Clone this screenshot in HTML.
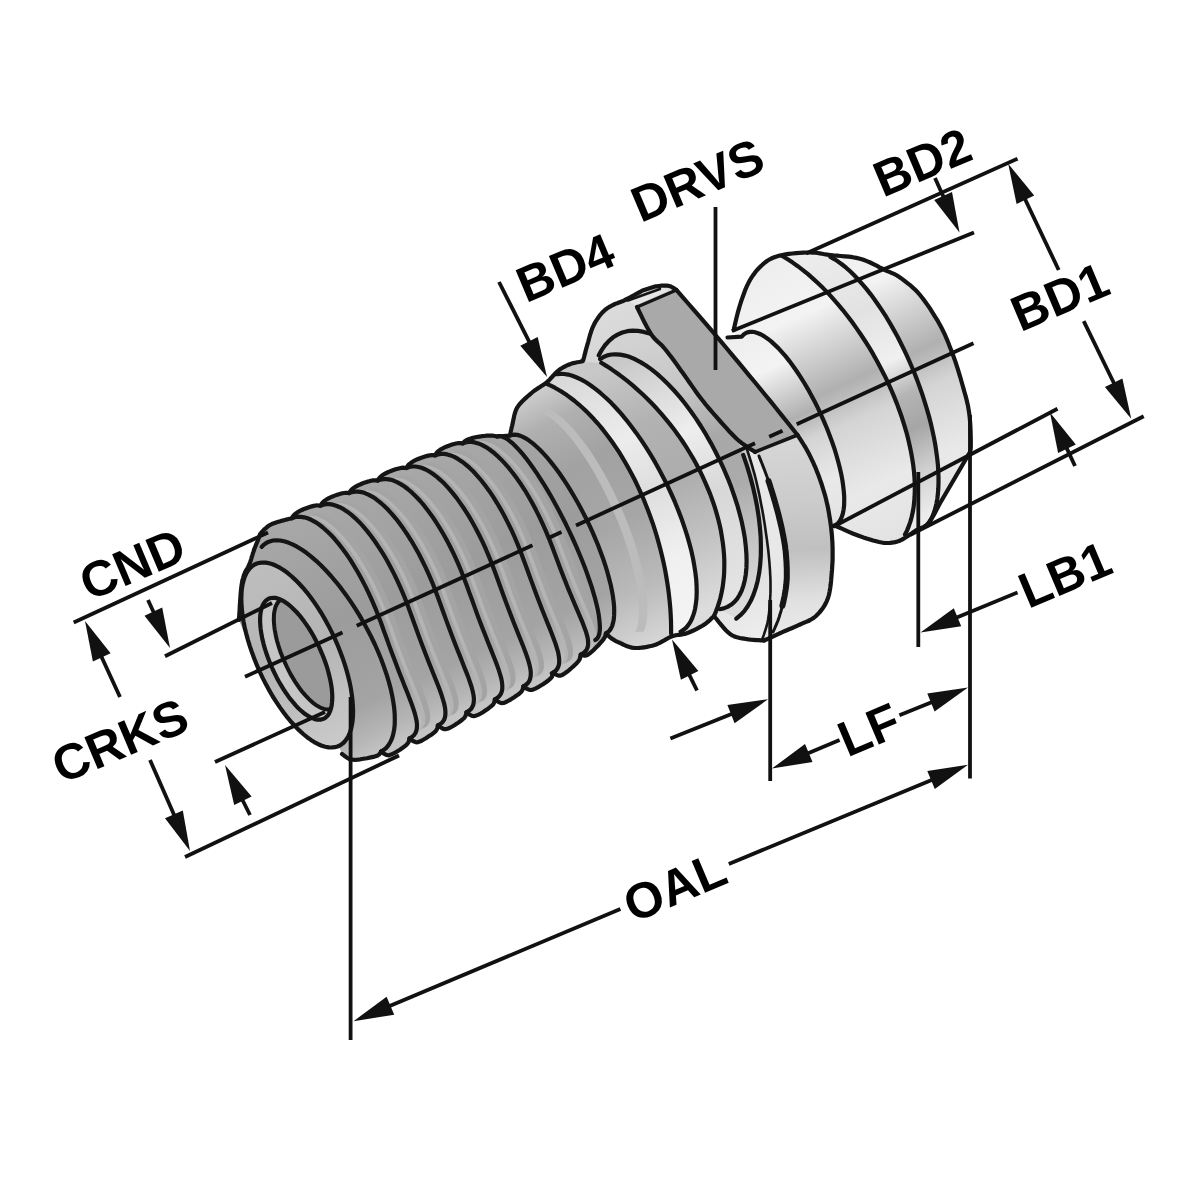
<!DOCTYPE html>
<html><head><meta charset="utf-8"><title>Retention knob dimensions</title>
<style>
html,body{margin:0;padding:0;background:#fff;}
body{width:1200px;height:1200px;overflow:hidden;}
svg{display:block;}
text{font-family:"Liberation Sans",sans-serif;font-weight:bold;fill:#000;}
</style></head><body>
<svg width="1200" height="1200" viewBox="0 0 1200 1200">
<rect width="1200" height="1200" fill="#fff"/>
<defs><linearGradient id="g1" gradientUnits="userSpaceOnUse" x1="769.8" y1="261.6" x2="898.9" y2="543.4"><stop offset="0" stop-color="#eeeeee"/><stop offset="0.2" stop-color="#f3f3f3"/><stop offset="0.34" stop-color="#cfcfcf"/><stop offset="0.46" stop-color="#b0b0b0"/><stop offset="0.58" stop-color="#d4d4d4"/><stop offset="0.8" stop-color="#e9e9e9"/><stop offset="1" stop-color="#e2e2e2"/></linearGradient><linearGradient id="g2" gradientUnits="userSpaceOnUse" x1="812.0" y1="257.6" x2="929.4" y2="514.1"><stop offset="0" stop-color="#ececec"/><stop offset="0.25" stop-color="#e2e2e2"/><stop offset="0.45" stop-color="#f0f0f0"/><stop offset="0.58" stop-color="#b4b4b4"/><stop offset="0.7" stop-color="#a6a6a6"/><stop offset="0.85" stop-color="#d0d0d0"/><stop offset="1" stop-color="#ececec"/></linearGradient><linearGradient id="g3" gradientUnits="userSpaceOnUse" x1="746.3" y1="332.8" x2="834.6" y2="525.6"><stop offset="0" stop-color="#eeeeee"/><stop offset="0.2" stop-color="#f3f3f3"/><stop offset="0.34" stop-color="#cfcfcf"/><stop offset="0.46" stop-color="#b0b0b0"/><stop offset="0.58" stop-color="#d4d4d4"/><stop offset="0.8" stop-color="#e9e9e9"/><stop offset="1" stop-color="#e2e2e2"/></linearGradient><linearGradient id="g4" gradientUnits="userSpaceOnUse" x1="600" y1="300" x2="760" y2="640"><stop offset="0" stop-color="#dcdcdc"/><stop offset="0.35" stop-color="#d0d0d0"/><stop offset="0.6" stop-color="#c6c6c6"/><stop offset="0.85" stop-color="#e2e2e2"/><stop offset="1" stop-color="#eeeeee"/></linearGradient><linearGradient id="g5" gradientUnits="userSpaceOnUse" x1="640" y1="340" x2="750" y2="600"><stop offset="0" stop-color="#d2d2d2"/><stop offset="0.22" stop-color="#c6c6c6"/><stop offset="0.42" stop-color="#a8a8a8"/><stop offset="0.6" stop-color="#ababab"/><stop offset="0.8" stop-color="#c4c4c4"/><stop offset="1" stop-color="#dcdcdc"/></linearGradient><linearGradient id="g6" gradientUnits="userSpaceOnUse" x1="620" y1="360" x2="730" y2="600"><stop offset="0" stop-color="#c8c8c8"/><stop offset="0.35" stop-color="#eeeeee"/><stop offset="0.6" stop-color="#d8d8d8"/><stop offset="1" stop-color="#e4e4e4"/></linearGradient><linearGradient id="g7" gradientUnits="userSpaceOnUse" x1="790" y1="440" x2="800" y2="640"><stop offset="0" stop-color="#d6d6d6"/><stop offset="0.3" stop-color="#cccccc"/><stop offset="0.55" stop-color="#c0c0c0"/><stop offset="0.8" stop-color="#e0e0e0"/><stop offset="1" stop-color="#ececec"/></linearGradient><linearGradient id="g8" gradientUnits="userSpaceOnUse" x1="600" y1="370" x2="700" y2="610"><stop offset="0" stop-color="#c8c8c8"/><stop offset="0.25" stop-color="#b2b2b2"/><stop offset="0.5" stop-color="#adadad"/><stop offset="0.75" stop-color="#c2c2c2"/><stop offset="1" stop-color="#dcdcdc"/></linearGradient><linearGradient id="g9" gradientUnits="userSpaceOnUse" x1="560" y1="375" x2="690" y2="630"><stop offset="0" stop-color="#d8d8d8"/><stop offset="0.3" stop-color="#ececec"/><stop offset="0.5" stop-color="#dedede"/><stop offset="0.75" stop-color="#f0f0f0"/><stop offset="1" stop-color="#f4f4f4"/></linearGradient><linearGradient id="g10" gradientUnits="userSpaceOnUse" x1="520" y1="400" x2="640" y2="650"><stop offset="0" stop-color="#cccccc"/><stop offset="0.12" stop-color="#b0b0b0"/><stop offset="0.3" stop-color="#a2a2a2"/><stop offset="0.55" stop-color="#a6a6a6"/><stop offset="0.8" stop-color="#bababa"/><stop offset="1" stop-color="#d6d6d6"/></linearGradient><linearGradient id="g11" gradientUnits="userSpaceOnUse" x1="420.4" y1="459.3" x2="524.2" y2="685.9"><stop offset="0" stop-color="#a8a8a8"/><stop offset="0.45" stop-color="#9c9c9c"/><stop offset="0.8" stop-color="#a4a4a4"/><stop offset="0.93" stop-color="#b6b6b6"/><stop offset="1" stop-color="#c4c4c4"/></linearGradient><linearGradient id="g12" gradientUnits="userSpaceOnUse" x1="254.7" y1="562.3" x2="338.0" y2="744.1"><stop offset="0" stop-color="#bebebe"/><stop offset="0.5" stop-color="#b4b4b4"/><stop offset="1" stop-color="#cacaca"/></linearGradient></defs>
<path d="M733.7,330.0 L734.2,328.1 L734.7,325.5 L735.4,322.5 L736.2,319.1 L737.1,315.5 L738.0,311.8 L739.0,308.3 L740.0,305.0 L741.0,301.8 L742.1,298.6 L743.3,295.3 L744.5,292.0 L745.7,288.8 L747.1,285.7 L748.5,282.8 L750.0,280.0 L751.6,277.4 L753.3,274.9 L755.1,272.4 L757.0,270.2 L759.0,268.0 L761.0,266.0 L763.0,264.2 L765.0,262.5 L767.0,261.0 L769.0,259.8 L770.9,258.7 L773.0,257.8 L775.1,257.0 L777.4,256.3 L779.8,255.6 L782.5,255.0 L785.5,254.4 L788.8,253.9 L792.4,253.5 L796.1,253.1 L799.8,252.9 L803.4,252.7 L806.9,252.5 L810.0,252.5 L812.8,252.6 L815.3,252.7 L817.6,253.0 L819.8,253.4 L822.1,253.8 L824.5,254.2 L827.1,254.6 L830.0,255.0 L833.3,255.4 L836.9,255.7 L840.7,256.0 L844.7,256.3 L848.7,256.7 L852.6,257.2 L856.4,257.9 L860.0,258.7 L863.4,259.8 L866.8,261.1 L870.2,262.5 L873.4,264.1 L876.6,265.7 L879.6,267.3 L882.4,268.7 L885.0,270.0 L887.3,271.1 L889.3,271.9 L891.1,272.7 L892.8,273.4 L894.4,274.1 L896.1,275.0 L898.0,276.1 L900.0,277.5 L902.3,279.1 L904.6,280.9 L907.1,282.8 L909.7,284.8 L912.3,287.1 L914.9,289.5 L917.5,292.1 L920.0,295.0 L922.6,298.2 L925.2,301.7 L927.8,305.4 L930.5,309.3 L933.0,313.3 L935.5,317.3 L937.9,321.2 L940.0,325.0 L941.9,328.6 L943.7,332.2 L945.3,335.7 L946.9,339.3 L948.3,342.8 L949.7,346.4 L951.1,350.0 L952.5,353.7 L953.9,357.5 L955.3,361.4 L956.6,365.4 L957.9,369.4 L959.1,373.4 L960.3,377.3 L961.4,381.2 L962.5,385.0 L963.5,388.6 L964.5,392.2 L965.5,395.6 L966.4,399.0 L967.2,402.4 L968.0,405.9 L968.6,409.5 L969.2,413.3 L969.7,417.4 L970.1,421.9 L970.4,426.6 L970.6,431.3 L970.7,435.8 L970.8,440.0 L970.8,443.7 L970.8,446.7 L970.7,449.0 L970.4,450.7 L970.1,452.0 L969.6,452.9 L969.2,453.6 L968.8,454.1 L968.5,454.5 L968.3,455.0 L940.0,503.3 L939.1,504.9 L937.9,507.2 L936.5,509.9 L934.9,512.9 L933.2,515.9 L931.5,518.8 L929.8,521.3 L928.3,523.3 L926.8,524.8 L925.4,525.9 L923.9,526.8 L922.4,527.5 L920.9,528.1 L919.5,528.6 L918.1,529.3 L916.7,530.0 L915.4,530.8 L914.1,531.7 L912.8,532.6 L911.6,533.5 L910.4,534.3 L909.2,535.1 L907.9,535.9 L906.7,536.7 L905.5,537.4 L904.3,538.2 L903.2,538.9 L902.0,539.6 L900.8,540.2 L899.6,540.8 L898.2,541.3 L896.7,541.7 L895.1,542.1 L893.5,542.4 L891.9,542.7 L890.1,542.9 L888.3,543.0 L886.3,543.0 L884.1,542.8 L881.7,542.5 L879.1,542.0 L876.2,541.3 L873.1,540.5 L869.9,539.5 L866.6,538.5 L863.3,537.4 L860.0,536.2 L856.7,535.0 L853.3,533.7 L849.5,532.1 L845.6,530.4 L841.8,528.7 L838.1,527.0 L834.8,525.5 L832.1,524.2 L830.0,523.3 L800.0,470.0 L760.0,400.0Z" fill="url(#g1)" stroke="none"/>
<path d="M782.7,256.3 L787.7,259.3 L792.7,262.6 L797.8,266.2 L802.9,270.1 L808.0,274.2 L813.0,278.6 L818.1,283.3 L823.1,288.1 L828.1,293.2 L833.0,298.6 L837.8,304.1 L842.6,309.8 L847.3,315.7 L851.9,321.8 L856.4,328.1 L860.8,334.5 L865.1,341.0 L869.3,347.6 L873.3,354.4 L877.1,361.3 L880.8,368.2 L884.4,375.2 L887.8,382.2 L891.0,389.3 L894.0,396.4 L896.9,403.6 L899.5,410.7 L902.0,417.8 L904.2,424.8 L906.3,431.8 L908.1,438.8 L909.7,445.7 L911.1,452.4 L912.3,459.1 L913.3,465.7 L914.0,472.1 L914.5,478.4 L914.8,484.5 L914.8,490.5 L914.6,496.2 L914.2,501.8 L913.6,507.2 L912.7,512.3 L911.6,517.3 L910.3,521.9 L908.7,526.4 L907.0,530.6 L905.0,534.5 L927.1,525.3 L929.2,522.5 L931.0,519.4 L932.7,515.9 L934.1,512.1 L935.4,508.0 L936.4,503.6 L937.3,498.8 L937.9,493.8 L938.3,488.5 L938.5,482.9 L938.5,477.1 L938.3,471.0 L937.9,464.8 L937.2,458.3 L936.3,451.7 L935.3,444.9 L934.0,437.9 L932.5,430.9 L930.9,423.7 L929.0,416.4 L926.9,409.1 L924.7,401.8 L922.3,394.4 L919.7,387.0 L917.0,379.6 L914.1,372.3 L911.0,365.0 L907.9,357.8 L904.5,350.6 L901.1,343.7 L897.6,336.8 L893.9,330.1 L890.2,323.6 L886.4,317.2 L882.5,311.1 L878.5,305.2 L874.5,299.5 L870.5,294.1 L866.4,288.9 L862.3,284.1 L858.2,279.5 L854.2,275.3 L850.1,271.3 L846.1,267.7 L842.1,264.5 L838.1,261.6 L834.2,259.1 L830.4,256.9Z" fill="url(#g2)" stroke="none"/>
<path d="M733.7,330.0 L734.2,328.1 L734.7,325.5 L735.4,322.5 L736.2,319.1 L737.1,315.5 L738.0,311.8 L739.0,308.3 L740.0,305.0 L741.0,301.8 L742.1,298.6 L743.3,295.3 L744.5,292.0 L745.7,288.8 L747.1,285.7 L748.5,282.8 L750.0,280.0 L751.6,277.4 L753.3,274.9 L755.1,272.4 L757.0,270.2 L759.0,268.0 L761.0,266.0 L763.0,264.2 L765.0,262.5 L767.0,261.0 L769.0,259.8 L770.9,258.7 L773.0,257.8 L775.1,257.0 L777.4,256.3 L779.8,255.6 L782.5,255.0 L785.5,254.4 L788.8,253.9 L792.4,253.5 L796.1,253.1 L799.8,252.9 L803.4,252.7 L806.9,252.5 L810.0,252.5 L812.8,252.6 L815.3,252.7 L817.6,253.0 L819.8,253.4 L822.1,253.8 L824.5,254.2 L827.1,254.6 L830.0,255.0 L833.3,255.4 L836.9,255.7 L840.7,256.0 L844.7,256.3 L848.7,256.7 L852.6,257.2 L856.4,257.9 L860.0,258.7 L863.4,259.8 L866.8,261.1 L870.2,262.5 L873.4,264.1 L876.6,265.7 L879.6,267.3 L882.4,268.7 L885.0,270.0 L887.3,271.1 L889.3,271.9 L891.1,272.7 L892.8,273.4 L894.4,274.1 L896.1,275.0 L898.0,276.1 L900.0,277.5 L902.3,279.1 L904.6,280.9 L907.1,282.8 L909.7,284.8 L912.3,287.1 L914.9,289.5 L917.5,292.1 L920.0,295.0 L922.6,298.2 L925.2,301.7 L927.8,305.4 L930.5,309.3 L933.0,313.3 L935.5,317.3 L937.9,321.2 L940.0,325.0 L941.9,328.6 L943.7,332.2 L945.3,335.7 L946.9,339.3 L948.3,342.8 L949.7,346.4 L951.1,350.0 L952.5,353.7 L953.9,357.5 L955.3,361.4 L956.6,365.4 L957.9,369.4 L959.1,373.4 L960.3,377.3 L961.4,381.2 L962.5,385.0 L963.5,388.6 L964.5,392.2 L965.5,395.6 L966.4,399.0 L967.2,402.4 L968.0,405.9 L968.6,409.5 L969.2,413.3 L969.7,417.4 L970.1,421.9 L970.4,426.6 L970.6,431.3 L970.7,435.8 L970.8,440.0 L970.8,443.7 L970.8,446.7 L970.7,449.0 L970.4,450.7 L970.1,452.0 L969.6,452.9 L969.2,453.6 L968.8,454.1 L968.5,454.5 L968.3,455.0 L940.0,503.3 L939.1,504.9 L937.9,507.2 L936.5,509.9 L934.9,512.9 L933.2,515.9 L931.5,518.8 L929.8,521.3 L928.3,523.3 L926.8,524.8 L925.4,525.9 L923.9,526.8 L922.4,527.5 L920.9,528.1 L919.5,528.6 L918.1,529.3 L916.7,530.0 L915.4,530.8 L914.1,531.7 L912.8,532.6 L911.6,533.5 L910.4,534.3 L909.2,535.1 L907.9,535.9 L906.7,536.7 L905.5,537.4 L904.3,538.2 L903.2,538.9 L902.0,539.6 L900.8,540.2 L899.6,540.8 L898.2,541.3 L896.7,541.7 L895.1,542.1 L893.5,542.4 L891.9,542.7 L890.1,542.9 L888.3,543.0 L886.3,543.0 L884.1,542.8 L881.7,542.5 L879.1,542.0 L876.2,541.3 L873.1,540.5 L869.9,539.5 L866.6,538.5 L863.3,537.4 L860.0,536.2 L856.7,535.0 L853.3,533.7 L849.5,532.1 L845.6,530.4 L841.8,528.7 L838.1,527.0 L834.8,525.5 L832.1,524.2 L830.0,523.3" fill="none" stroke="#151515" stroke-width="4.2" stroke-linecap="round" stroke-linejoin="round"/>
<path d="M782.7,256.3 L787.7,259.3 L792.7,262.6 L797.8,266.2 L802.9,270.1 L808.0,274.2 L813.0,278.6 L818.1,283.3 L823.1,288.1 L828.1,293.2 L833.0,298.6 L837.8,304.1 L842.6,309.8 L847.3,315.7 L851.9,321.8 L856.4,328.1 L860.8,334.5 L865.1,341.0 L869.3,347.6 L873.3,354.4 L877.1,361.3 L880.8,368.2 L884.4,375.2 L887.8,382.2 L891.0,389.3 L894.0,396.4 L896.9,403.6 L899.5,410.7 L902.0,417.8 L904.2,424.8 L906.3,431.8 L908.1,438.8 L909.7,445.7 L911.1,452.4 L912.3,459.1 L913.3,465.7 L914.0,472.1 L914.5,478.4 L914.8,484.5 L914.8,490.5 L914.6,496.2 L914.2,501.8 L913.6,507.2 L912.7,512.3 L911.6,517.3 L910.3,521.9 L908.7,526.4 L907.0,530.6 L905.0,534.5" fill="none" stroke="#151515" stroke-width="4.2" stroke-linecap="round" stroke-linejoin="round"/>
<path d="M830.4,256.9 L834.2,259.1 L838.1,261.6 L842.1,264.5 L846.1,267.7 L850.1,271.3 L854.2,275.3 L858.2,279.5 L862.3,284.1 L866.4,288.9 L870.5,294.1 L874.5,299.5 L878.5,305.2 L882.5,311.1 L886.4,317.2 L890.2,323.6 L893.9,330.1 L897.6,336.8 L901.1,343.7 L904.5,350.6 L907.9,357.8 L911.0,365.0 L914.1,372.3 L917.0,379.6 L919.7,387.0 L922.3,394.4 L924.7,401.8 L926.9,409.1 L929.0,416.4 L930.9,423.7 L932.5,430.9 L934.0,437.9 L935.3,444.9 L936.3,451.7 L937.2,458.3 L937.9,464.8 L938.3,471.0 L938.5,477.1 L938.5,482.9 L938.3,488.5 L937.9,493.8 L937.3,498.8 L936.4,503.6 L935.4,508.0 L934.1,512.1 L932.7,515.9 L931.0,519.4 L929.2,522.5 L927.1,525.3" fill="none" stroke="#151515" stroke-width="4.2" stroke-linecap="round" stroke-linejoin="round"/>
<path d="M727.5,337.5 L741.7,336.7 L743.4,334.8 L745.3,333.4 L747.4,332.4 L749.8,331.9 L752.4,331.8 L755.1,332.3 L758.0,333.2 L761.1,334.5 L764.3,336.4 L767.6,338.7 L771.1,341.4 L774.6,344.6 L778.3,348.1 L781.9,352.1 L785.7,356.4 L789.4,361.1 L793.2,366.2 L796.9,371.5 L800.6,377.1 L804.3,383.0 L807.9,389.1 L811.4,395.4 L814.8,401.8 L818.1,408.4 L821.2,415.1 L824.2,421.9 L827.1,428.7 L829.7,435.5 L832.2,442.2 L834.5,448.9 L836.5,455.5 L838.3,462.0 L839.9,468.3 L841.3,474.4 L842.4,480.4 L843.2,486.0 L843.8,491.4 L844.2,496.5 L844.2,501.2 L844.1,505.6 L843.6,509.6 L842.9,513.3 L841.9,516.5 L840.7,519.3 L839.3,521.7 L837.6,523.6 L835.6,525.0 L833.5,526.0 L831.1,526.5 L828.6,526.5 L778.4,549.5 L781.0,549.4 L783.5,548.9 L785.7,547.9 L787.6,546.4 L789.4,544.5 L790.9,542.1 L792.2,539.3 L793.2,536.0 L793.9,532.4 L794.4,528.3 L794.7,523.9 L794.6,519.1 L794.3,514.0 L793.8,508.6 L793.0,503.0 L791.9,497.1 L790.6,490.9 L789.0,484.6 L787.2,478.1 L785.2,471.5 L782.9,464.8 L780.5,458.0 L777.8,451.2 L775.0,444.4 L772.0,437.6 L768.8,431.0 L765.5,424.4 L762.1,417.9 L758.6,411.6 L755.0,405.5 L751.3,399.7 L747.6,394.1 L743.8,388.8 L740.0,383.7 L736.3,379.1 L732.5,374.7 L728.8,370.8 L725.1,367.2 L721.5,364.1 L718.0,361.4 L714.6,359.1 L711.4,357.3 L708.2,356.0 L705.3,355.1 L702.5,354.7 L699.9,354.7 L697.5,355.3 L695.3,356.3 L693.3,357.7 L691.5,359.7Z" fill="url(#g3)" stroke="none"/>
<path d="M727.5,337.5 L741.7,336.7 L743.4,334.8 L745.3,333.4 L747.4,332.4 L749.8,331.9 L752.4,331.8 L755.1,332.3 L758.0,333.2 L761.1,334.5 L764.3,336.4 L767.6,338.7 L771.1,341.4 L774.6,344.6 L778.3,348.1 L781.9,352.1 L785.7,356.4 L789.4,361.1 L793.2,366.2 L796.9,371.5 L800.6,377.1 L804.3,383.0 L807.9,389.1 L811.4,395.4 L814.8,401.8 L818.1,408.4 L821.2,415.1 L824.2,421.9 L827.1,428.7 L829.7,435.5 L832.2,442.2 L834.5,448.9 L836.5,455.5 L838.3,462.0 L839.9,468.3 L841.3,474.4 L842.4,480.4 L843.2,486.0 L843.8,491.4 L844.2,496.5 L844.2,501.2 L844.1,505.6 L843.6,509.6 L842.9,513.3 L841.9,516.5 L840.7,519.3 L839.3,521.7 L837.6,523.6 L835.6,525.0 L833.5,526.0 L831.1,526.5 L828.6,526.5" fill="none" stroke="#151515" stroke-width="4.2" stroke-linecap="round" stroke-linejoin="round"/>
<clipPath id="flclip"><path d="M583.0,361.0 L583.3,359.9 L583.7,358.4 L584.2,356.6 L584.7,354.6 L585.3,352.4 L585.8,350.2 L586.4,348.1 L587.0,346.0 L587.6,343.9 L588.2,341.8 L588.8,339.5 L589.4,337.2 L590.0,335.0 L590.7,332.9 L591.3,330.9 L592.0,329.0 L592.7,327.3 L593.4,325.8 L594.1,324.3 L594.9,322.9 L595.6,321.6 L596.4,320.4 L597.2,319.2 L598.0,318.0 L598.8,316.8 L599.6,315.7 L600.5,314.7 L601.3,313.7 L602.2,312.7 L603.1,311.8 L604.0,310.9 L605.0,310.0 L606.0,309.2 L607.1,308.4 L608.1,307.7 L609.2,307.0 L610.4,306.4 L611.6,305.7 L612.8,305.1 L614.0,304.5 L615.2,303.9 L616.5,303.4 L617.7,303.0 L619.0,302.5 L620.3,302.0 L621.7,301.5 L623.3,300.8 L625.0,300.0 L627.0,299.0 L629.3,297.8 L631.9,296.4 L634.4,295.0 L636.9,293.6 L639.2,292.3 L641.1,291.3 L642.5,290.5 L655.0,286.5 L655.6,286.4 L656.5,286.3 L657.5,286.2 L658.6,286.0 L659.7,285.9 L660.9,285.7 L662.0,285.6 L663.0,285.6 L663.9,285.6 L664.8,285.6 L665.7,285.6 L666.6,285.6 L667.5,285.7 L668.3,285.8 L669.2,286.0 L670.0,286.2 L670.9,286.5 L671.8,287.0 L672.8,287.6 L673.7,288.1 L674.6,288.7 L675.3,289.2 L676.0,289.7 L676.5,290.0 L797.5,435.0 L797.5,435.0 L798.3,436.3 L799.4,437.9 L800.7,439.9 L802.1,442.1 L803.6,444.5 L805.2,447.0 L806.6,449.5 L808.0,452.0 L809.3,454.5 L810.6,457.1 L811.9,459.8 L813.2,462.5 L814.4,465.3 L815.7,468.2 L816.8,471.1 L818.0,474.0 L819.1,477.0 L820.2,480.1 L821.3,483.2 L822.3,486.4 L823.3,489.6 L824.3,492.8 L825.2,495.9 L826.0,499.0 L826.7,502.1 L827.4,505.1 L828.1,508.2 L828.6,511.2 L829.1,514.2 L829.6,517.2 L830.1,520.1 L830.5,523.0 L830.9,525.8 L831.2,528.6 L831.5,531.3 L831.8,533.9 L832.0,536.6 L832.2,539.3 L832.4,542.1 L832.5,545.0 L832.6,548.0 L832.6,551.0 L832.6,554.0 L832.6,557.1 L832.6,560.3 L832.4,563.5 L832.2,566.7 L832.0,570.0 L831.7,573.4 L831.4,577.0 L831.1,580.7 L830.7,584.4 L830.2,588.1 L829.6,591.6 L828.9,595.0 L828.0,598.0 L826.9,600.8 L825.7,603.4 L824.3,605.9 L822.8,608.2 L821.1,610.4 L819.5,612.4 L817.7,614.3 L816.0,616.0 L814.2,617.5 L812.3,618.8 L810.2,620.0 L808.2,621.0 L806.1,621.9 L804.0,622.7 L802.0,623.6 L800.0,624.5 L798.0,625.4 L796.1,626.3 L794.1,627.1 L792.2,628.0 L790.3,628.8 L788.4,629.5 L786.7,630.3 L785.0,631.0 L783.4,631.7 L781.9,632.4 L780.5,633.0 L779.2,633.6 L777.9,634.2 L776.6,634.8 L775.3,635.4 L774.0,636.0 L772.6,636.6 L771.2,637.3 L769.7,637.9 L768.3,638.6 L767.0,639.2 L765.8,639.7 L764.8,640.2 L764.0,640.5 L762.6,640.4 L760.7,640.3 L758.5,640.2 L756.0,640.1 L753.4,639.9 L750.8,639.7 L748.3,639.4 L746.0,639.0 L743.9,638.6 L741.9,638.3 L739.9,638.0 L737.9,637.5 L735.9,637.0 L734.0,636.2 L732.0,635.3 L730.0,634.0 L727.9,632.2 L725.6,630.0 L723.3,627.4 L721.0,624.7 L718.8,622.0 L716.9,619.5 L715.2,617.5 L714.0,616.0 L650.0,520.0 L600.0,420.0Z"/></clipPath>
<g clip-path="url(#flclip)">
<path d="M583.0,361.0 L583.3,359.9 L583.7,358.4 L584.2,356.6 L584.7,354.6 L585.3,352.4 L585.8,350.2 L586.4,348.1 L587.0,346.0 L587.6,343.9 L588.2,341.8 L588.8,339.5 L589.4,337.2 L590.0,335.0 L590.7,332.9 L591.3,330.9 L592.0,329.0 L592.7,327.3 L593.4,325.8 L594.1,324.3 L594.9,322.9 L595.6,321.6 L596.4,320.4 L597.2,319.2 L598.0,318.0 L598.8,316.8 L599.6,315.7 L600.5,314.7 L601.3,313.7 L602.2,312.7 L603.1,311.8 L604.0,310.9 L605.0,310.0 L606.0,309.2 L607.1,308.4 L608.1,307.7 L609.2,307.0 L610.4,306.4 L611.6,305.7 L612.8,305.1 L614.0,304.5 L615.2,303.9 L616.5,303.4 L617.7,303.0 L619.0,302.5 L620.3,302.0 L621.7,301.5 L623.3,300.8 L625.0,300.0 L627.0,299.0 L629.3,297.8 L631.9,296.4 L634.4,295.0 L636.9,293.6 L639.2,292.3 L641.1,291.3 L642.5,290.5 L655.0,286.5 L655.6,286.4 L656.5,286.3 L657.5,286.2 L658.6,286.0 L659.7,285.9 L660.9,285.7 L662.0,285.6 L663.0,285.6 L663.9,285.6 L664.8,285.6 L665.7,285.6 L666.6,285.6 L667.5,285.7 L668.3,285.8 L669.2,286.0 L670.0,286.2 L670.9,286.5 L671.8,287.0 L672.8,287.6 L673.7,288.1 L674.6,288.7 L675.3,289.2 L676.0,289.7 L676.5,290.0 L797.5,435.0 L797.5,435.0 L798.3,436.3 L799.4,437.9 L800.7,439.9 L802.1,442.1 L803.6,444.5 L805.2,447.0 L806.6,449.5 L808.0,452.0 L809.3,454.5 L810.6,457.1 L811.9,459.8 L813.2,462.5 L814.4,465.3 L815.7,468.2 L816.8,471.1 L818.0,474.0 L819.1,477.0 L820.2,480.1 L821.3,483.2 L822.3,486.4 L823.3,489.6 L824.3,492.8 L825.2,495.9 L826.0,499.0 L826.7,502.1 L827.4,505.1 L828.1,508.2 L828.6,511.2 L829.1,514.2 L829.6,517.2 L830.1,520.1 L830.5,523.0 L830.9,525.8 L831.2,528.6 L831.5,531.3 L831.8,533.9 L832.0,536.6 L832.2,539.3 L832.4,542.1 L832.5,545.0 L832.6,548.0 L832.6,551.0 L832.6,554.0 L832.6,557.1 L832.6,560.3 L832.4,563.5 L832.2,566.7 L832.0,570.0 L831.7,573.4 L831.4,577.0 L831.1,580.7 L830.7,584.4 L830.2,588.1 L829.6,591.6 L828.9,595.0 L828.0,598.0 L826.9,600.8 L825.7,603.4 L824.3,605.9 L822.8,608.2 L821.1,610.4 L819.5,612.4 L817.7,614.3 L816.0,616.0 L814.2,617.5 L812.3,618.8 L810.2,620.0 L808.2,621.0 L806.1,621.9 L804.0,622.7 L802.0,623.6 L800.0,624.5 L798.0,625.4 L796.1,626.3 L794.1,627.1 L792.2,628.0 L790.3,628.8 L788.4,629.5 L786.7,630.3 L785.0,631.0 L783.4,631.7 L781.9,632.4 L780.5,633.0 L779.2,633.6 L777.9,634.2 L776.6,634.8 L775.3,635.4 L774.0,636.0 L772.6,636.6 L771.2,637.3 L769.7,637.9 L768.3,638.6 L767.0,639.2 L765.8,639.7 L764.8,640.2 L764.0,640.5 L762.6,640.4 L760.7,640.3 L758.5,640.2 L756.0,640.1 L753.4,639.9 L750.8,639.7 L748.3,639.4 L746.0,639.0 L743.9,638.6 L741.9,638.3 L739.9,638.0 L737.9,637.5 L735.9,637.0 L734.0,636.2 L732.0,635.3 L730.0,634.0 L727.9,632.2 L725.6,630.0 L723.3,627.4 L721.0,624.7 L718.8,622.0 L716.9,619.5 L715.2,617.5 L714.0,616.0 L650.0,520.0 L600.0,420.0Z" fill="url(#g4)" stroke="none"/>
<path d="M598.7,355.4 L601.8,349.9 L605.2,345.0 L609.0,340.8 L613.1,337.3 L617.6,334.6 L622.3,332.5 L627.3,331.2 L632.6,330.7 L638.1,330.9 L643.7,331.9 L649.5,333.6 L655.5,336.0 L661.5,339.2 L667.6,343.1 L673.8,347.6 L679.9,352.9 L686.1,358.7 L692.1,365.2 L698.1,372.3 L704.0,379.9 L709.7,388.0 L715.2,396.5 L720.6,405.5 L725.6,414.8 L730.5,424.5 L735.0,434.4 L739.3,444.6 L743.2,454.9 L746.8,465.4 L750.0,475.9 L752.8,486.4 L755.2,496.9 L757.2,507.2 L758.8,517.5 L759.9,527.5 L760.7,537.3 L760.9,546.8 L760.8,555.9 L760.2,564.6 L759.2,572.9 L757.7,580.7 L755.8,587.9 L753.5,594.6 L750.8,600.8 L747.7,606.2 L744.3,611.1 L740.4,615.2 L736.3,618.6 L719.7,609.2 L723.7,608.4 L727.5,606.9 L731.0,604.8 L734.2,602.1 L737.1,598.8 L739.5,595.0 L741.7,590.6 L743.4,585.6 L744.8,580.2 L745.8,574.3 L746.4,567.9 L746.6,561.1 L746.4,553.9 L745.8,546.4 L744.9,538.5 L743.5,530.4 L741.8,522.1 L739.6,513.5 L737.2,504.8 L734.3,496.0 L731.2,487.1 L727.7,478.1 L723.9,469.2 L719.8,460.4 L715.5,451.7 L710.9,443.1 L706.1,434.7 L701.1,426.5 L696.0,418.6 L690.6,411.0 L685.2,403.8 L679.7,396.9 L674.1,390.5 L668.4,384.5 L662.8,379.0 L657.1,373.9 L651.5,369.4 L646.0,365.5 L640.5,362.1 L635.2,359.3 L630.1,357.1 L625.1,355.6 L620.3,354.6 L615.7,354.3 L611.4,354.5 L607.3,355.4 L603.5,357.0 L600.1,359.1Z" fill="url(#g5)" stroke="none"/>
<path d="M600.1,359.1 L603.5,357.0 L607.3,355.4 L611.4,354.5 L615.7,354.3 L620.3,354.6 L625.1,355.6 L630.1,357.1 L635.2,359.3 L640.5,362.1 L646.0,365.5 L651.5,369.4 L657.1,373.9 L662.8,379.0 L668.4,384.5 L674.1,390.5 L679.7,396.9 L685.2,403.8 L690.6,411.0 L696.0,418.6 L701.1,426.5 L706.1,434.7 L710.9,443.1 L715.5,451.7 L719.8,460.4 L723.9,469.2 L727.7,478.1 L731.2,487.1 L734.3,496.0 L737.2,504.8 L739.6,513.5 L741.8,522.1 L743.5,530.4 L744.9,538.5 L745.8,546.4 L746.4,553.9 L746.6,561.1 L746.4,567.9 L745.8,574.3 L744.8,580.2 L743.4,585.6 L741.7,590.6 L739.5,595.0 L737.1,598.8 L734.2,602.1 L731.0,604.8 L727.5,606.9 L723.7,608.4 L719.7,609.2 L714.0,616.0 L715.9,611.6 L717.6,607.0 L719.2,602.3 L720.5,597.5 L721.6,592.5 L722.6,587.4 L723.3,582.1 L723.9,576.8 L724.2,571.3 L724.3,565.8 L724.3,560.1 L724.0,554.4 L723.5,548.6 L722.8,542.7 L721.9,536.8 L720.9,530.8 L719.6,524.8 L718.1,518.8 L716.4,512.7 L714.6,506.6 L712.5,500.5 L710.3,494.4 L707.8,488.3 L705.2,482.3 L702.4,476.2 L699.5,470.2 L696.4,464.2 L693.1,458.3 L689.6,452.5 L686.0,446.7 L682.3,441.0 L678.4,435.4 L674.3,429.8 L670.1,424.4 L665.8,419.1 L661.4,413.9 L656.9,408.8 L652.2,403.8 L647.5,399.0 L642.6,394.3 L637.7,389.8 L632.7,385.4 L627.6,381.2 L622.4,377.1 L617.2,373.3 L611.9,369.6 L606.6,366.1 L601.3,362.8Z" fill="url(#g6)" stroke="none"/>
<path d="M746.0,446.0 L746.8,448.6 L747.8,452.0 L749.1,456.0 L750.5,460.5 L752.0,465.3 L753.4,470.3 L754.8,475.2 L756.0,480.0 L757.1,484.7 L758.2,489.6 L759.3,494.6 L760.3,499.8 L761.3,504.9 L762.3,510.0 L763.2,515.1 L764.0,520.0 L764.8,524.9 L765.5,529.8 L766.2,534.7 L766.9,539.5 L767.5,544.3 L768.1,549.0 L768.6,553.6 L769.0,558.0 L769.4,562.3 L769.7,566.5 L770.0,570.5 L770.2,574.5 L770.4,578.4 L770.5,582.3 L770.5,586.1 L770.5,590.0 L770.4,593.9 L770.2,597.9 L770.0,601.8 L769.7,605.8 L769.4,609.6 L769.0,613.2 L768.5,616.7 L768.0,620.0 L767.4,623.1 L766.6,626.2 L765.7,629.1 L764.8,631.9 L764.0,634.4 L763.2,636.6 L762.5,638.5 L762.0,640.0 L773.0,632.0 L773.4,631.0 L774.0,629.8 L774.7,628.3 L775.4,626.6 L776.2,624.8 L777.0,622.9 L777.8,621.0 L778.5,619.0 L779.2,617.0 L779.8,614.9 L780.5,612.7 L781.2,610.4 L781.8,608.0 L782.4,605.7 L783.0,603.3 L783.5,601.0 L784.0,598.7 L784.5,596.3 L784.9,594.0 L785.3,591.6 L785.7,589.2 L786.0,586.8 L786.3,584.4 L786.5,582.0 L786.7,579.6 L786.8,577.1 L786.8,574.7 L786.8,572.2 L786.8,569.7 L786.7,567.2 L786.6,564.6 L786.5,562.0 L786.3,559.4 L786.1,556.8 L785.9,554.2 L785.7,551.6 L785.3,548.9 L785.0,546.0 L784.5,543.1 L784.0,540.0 L783.4,536.7 L782.7,533.3 L782.0,529.7 L781.2,526.0 L780.3,522.3 L779.4,518.5 L778.5,514.7 L777.5,511.0 L776.5,507.3 L775.4,503.5 L774.3,499.6 L773.2,495.8 L772.0,491.9 L770.8,488.2 L769.7,484.5 L768.5,481.0 L767.3,477.5 L765.9,473.8 L764.6,470.2 L763.2,466.6 L761.9,463.3 L760.7,460.4 L759.7,457.9 L759.0,456.0Z" fill="#e8e8e8" stroke="none"/>
<path d="M755.0,452.0 L797.5,435.0 L797.5,435.0 L798.3,436.3 L799.4,437.9 L800.7,439.9 L802.1,442.1 L803.6,444.5 L805.2,447.0 L806.6,449.5 L808.0,452.0 L809.3,454.5 L810.6,457.1 L811.9,459.8 L813.2,462.5 L814.4,465.3 L815.7,468.2 L816.8,471.1 L818.0,474.0 L819.1,477.0 L820.2,480.1 L821.3,483.2 L822.3,486.4 L823.3,489.6 L824.3,492.8 L825.2,495.9 L826.0,499.0 L826.7,502.1 L827.4,505.1 L828.1,508.2 L828.6,511.2 L829.1,514.2 L829.6,517.2 L830.1,520.1 L830.5,523.0 L830.9,525.8 L831.2,528.6 L831.5,531.3 L831.8,533.9 L832.0,536.6 L832.2,539.3 L832.4,542.1 L832.5,545.0 L832.6,548.0 L832.6,551.0 L832.6,554.0 L832.6,557.1 L832.6,560.3 L832.4,563.5 L832.2,566.7 L832.0,570.0 L831.7,573.4 L831.4,577.0 L831.1,580.7 L830.7,584.4 L830.2,588.1 L829.6,591.6 L828.9,595.0 L828.0,598.0 L826.9,600.8 L825.7,603.4 L824.3,605.9 L822.8,608.2 L821.1,610.4 L819.5,612.4 L817.7,614.3 L816.0,616.0 L814.2,617.5 L812.3,618.8 L810.2,620.0 L808.2,621.0 L806.1,621.9 L804.0,622.7 L802.0,623.6 L800.0,624.5 L798.0,625.4 L796.1,626.3 L794.1,627.1 L792.2,628.0 L790.3,628.8 L788.4,629.5 L786.7,630.3 L785.0,631.0 L783.4,631.7 L781.9,632.4 L780.5,633.0 L779.2,633.6 L777.9,634.2 L776.6,634.8 L775.3,635.4 L774.0,636.0 L772.6,636.6 L771.2,637.3 L769.7,637.9 L768.3,638.6 L767.0,639.2 L765.8,639.7 L764.8,640.2 L764.0,640.5 L773.0,632.0 L773.4,631.0 L774.0,629.8 L774.7,628.3 L775.4,626.6 L776.2,624.8 L777.0,622.9 L777.8,621.0 L778.5,619.0 L779.2,617.0 L779.8,614.9 L780.5,612.7 L781.2,610.4 L781.8,608.0 L782.4,605.7 L783.0,603.3 L783.5,601.0 L784.0,598.7 L784.5,596.3 L784.9,594.0 L785.3,591.6 L785.7,589.2 L786.0,586.8 L786.3,584.4 L786.5,582.0 L786.7,579.6 L786.8,577.1 L786.8,574.7 L786.8,572.2 L786.8,569.7 L786.7,567.2 L786.6,564.6 L786.5,562.0 L786.3,559.4 L786.1,556.8 L785.9,554.2 L785.7,551.6 L785.3,548.9 L785.0,546.0 L784.5,543.1 L784.0,540.0 L783.4,536.7 L782.7,533.3 L782.0,529.7 L781.2,526.0 L780.3,522.3 L779.4,518.5 L778.5,514.7 L777.5,511.0 L776.5,507.3 L775.4,503.5 L774.3,499.6 L773.2,495.8 L772.0,491.9 L770.8,488.2 L769.7,484.5 L768.5,481.0 L767.3,477.5 L765.9,473.8 L764.6,470.2 L763.2,466.6 L761.9,463.3 L760.7,460.4 L759.7,457.9 L759.0,456.0Z" fill="url(#g7)" stroke="none"/>
<path d="M627.2,299.5 L661.8,287.5 L668.3,290.5 L635.8,305.5Z" fill="#e6e6e6" stroke="none"/>
<path d="M637.0,307.0 L638.1,309.2 L639.5,312.1 L641.2,315.7 L643.1,319.6 L645.1,323.6 L647.2,327.5 L649.2,331.0 L651.0,334.0 L652.7,336.4 L654.4,338.4 L656.1,340.1 L657.8,341.7 L659.5,343.3 L661.3,344.9 L663.1,346.8 L665.0,349.0 L667.0,351.5 L669.1,354.2 L671.3,357.1 L673.5,360.1 L675.7,363.1 L678.0,366.2 L680.2,369.4 L682.5,372.5 L684.8,375.7 L687.0,378.9 L689.3,382.2 L691.7,385.6 L694.0,388.9 L696.3,392.2 L698.7,395.4 L701.0,398.5 L703.4,401.5 L705.7,404.5 L708.1,407.3 L710.5,410.2 L712.9,413.0 L715.3,415.7 L717.7,418.4 L720.0,421.0 L722.3,423.6 L724.6,426.2 L726.9,428.7 L729.1,431.2 L731.4,433.5 L733.6,435.8 L735.8,438.0 L738.0,440.0 L740.3,441.9 L742.7,443.8 L745.2,445.5 L747.6,447.2 L749.9,448.7 L752.0,450.0 L753.7,451.1 L755.0,452.0 L797.5,435.0 L676.5,290.0Z" fill="#a9a9a9" stroke="none"/>
</g>
<path d="M583.0,361.0 L583.3,359.9 L583.7,358.4 L584.2,356.6 L584.7,354.6 L585.3,352.4 L585.8,350.2 L586.4,348.1 L587.0,346.0 L587.6,343.9 L588.2,341.8 L588.8,339.5 L589.4,337.2 L590.0,335.0 L590.7,332.9 L591.3,330.9 L592.0,329.0 L592.7,327.3 L593.4,325.8 L594.1,324.3 L594.9,322.9 L595.6,321.6 L596.4,320.4 L597.2,319.2 L598.0,318.0 L598.8,316.8 L599.6,315.7 L600.5,314.7 L601.3,313.7 L602.2,312.7 L603.1,311.8 L604.0,310.9 L605.0,310.0 L606.0,309.2 L607.1,308.4 L608.1,307.7 L609.2,307.0 L610.4,306.4 L611.6,305.7 L612.8,305.1 L614.0,304.5 L615.2,303.9 L616.5,303.4 L617.7,303.0 L619.0,302.5 L620.3,302.0 L621.7,301.5 L623.3,300.8 L625.0,300.0 L627.0,299.0 L629.3,297.8 L631.9,296.4 L634.4,295.0 L636.9,293.6 L639.2,292.3 L641.1,291.3 L642.5,290.5 L655.0,286.5 L655.6,286.4 L656.5,286.3 L657.5,286.2 L658.6,286.0 L659.7,285.9 L660.9,285.7 L662.0,285.6 L663.0,285.6 L663.9,285.6 L664.8,285.6 L665.7,285.6 L666.6,285.6 L667.5,285.7 L668.3,285.8 L669.2,286.0 L670.0,286.2 L670.9,286.5 L671.8,287.0 L672.8,287.6 L673.7,288.1 L674.6,288.7 L675.3,289.2 L676.0,289.7 L676.5,290.0" fill="none" stroke="#151515" stroke-width="4.2" stroke-linecap="round" stroke-linejoin="round"/>
<path d="M676.5,290.0 L679.4,293.4 L683.3,297.8 L687.8,303.0 L692.9,308.9 L698.4,315.2 L704.0,321.7 L709.6,328.2 L715.0,334.5 L720.4,340.8 L726.0,347.5 L731.7,354.4 L737.6,361.4 L743.4,368.4 L749.1,375.3 L754.7,382.0 L760.0,388.5 L765.3,395.0 L770.8,401.7 L776.3,408.5 L781.6,415.1 L786.5,421.3 L790.9,426.8 L794.7,431.5 L797.5,435.0" fill="none" stroke="#151515" stroke-width="4.2" stroke-linecap="round" stroke-linejoin="round"/>
<path d="M637.0,307.0 L638.1,309.2 L639.5,312.1 L641.2,315.7 L643.1,319.6 L645.1,323.6 L647.2,327.5 L649.2,331.0 L651.0,334.0 L652.7,336.4 L654.4,338.4 L656.1,340.1 L657.8,341.7 L659.5,343.3 L661.3,344.9 L663.1,346.8 L665.0,349.0 L667.0,351.5 L669.1,354.2 L671.3,357.1 L673.5,360.1 L675.7,363.1 L678.0,366.2 L680.2,369.4 L682.5,372.5 L684.8,375.7 L687.0,378.9 L689.3,382.2 L691.7,385.6 L694.0,388.9 L696.3,392.2 L698.7,395.4 L701.0,398.5 L703.4,401.5 L705.7,404.5 L708.1,407.3 L710.5,410.2 L712.9,413.0 L715.3,415.7 L717.7,418.4 L720.0,421.0 L722.3,423.6 L724.6,426.2 L726.9,428.7 L729.1,431.2 L731.4,433.5 L733.6,435.8 L735.8,438.0 L738.0,440.0 L740.3,441.9 L742.7,443.8 L745.2,445.5 L747.6,447.2 L749.9,448.7 L752.0,450.0 L753.7,451.1 L755.0,452.0" fill="none" stroke="#151515" stroke-width="4.2" stroke-linecap="round" stroke-linejoin="round"/>
<path d="M637.0,307.0 L676.5,290.0" fill="none" stroke="#151515" stroke-width="3.3600000000000003" stroke-linecap="round" stroke-linejoin="round"/>
<path d="M755.0,452.0 L797.5,435.0" fill="none" stroke="#151515" stroke-width="3.57" stroke-linecap="round" stroke-linejoin="round"/>
<path d="M628.0,300.5 L660.0,289.0" fill="none" stroke="#151515" stroke-width="2.6" stroke-linecap="round" stroke-linejoin="round"/>
<path d="M797.5,435.0 L798.3,436.3 L799.4,437.9 L800.7,439.9 L802.1,442.1 L803.6,444.5 L805.2,447.0 L806.6,449.5 L808.0,452.0 L809.3,454.5 L810.6,457.1 L811.9,459.8 L813.2,462.5 L814.4,465.3 L815.7,468.2 L816.8,471.1 L818.0,474.0 L819.1,477.0 L820.2,480.1 L821.3,483.2 L822.3,486.4 L823.3,489.6 L824.3,492.8 L825.2,495.9 L826.0,499.0 L826.7,502.1 L827.4,505.1 L828.1,508.2 L828.6,511.2 L829.1,514.2 L829.6,517.2 L830.1,520.1 L830.5,523.0 L830.9,525.8 L831.2,528.6 L831.5,531.3 L831.8,533.9 L832.0,536.6 L832.2,539.3 L832.4,542.1 L832.5,545.0 L832.6,548.0 L832.6,551.0 L832.6,554.0 L832.6,557.1 L832.6,560.3 L832.4,563.5 L832.2,566.7 L832.0,570.0 L831.7,573.4 L831.4,577.0 L831.1,580.7 L830.7,584.4 L830.2,588.1 L829.6,591.6 L828.9,595.0 L828.0,598.0 L826.9,600.8 L825.7,603.4 L824.3,605.9 L822.8,608.2 L821.1,610.4 L819.5,612.4 L817.7,614.3 L816.0,616.0 L814.2,617.5 L812.3,618.8 L810.2,620.0 L808.2,621.0 L806.1,621.9 L804.0,622.7 L802.0,623.6 L800.0,624.5 L798.0,625.4 L796.1,626.3 L794.1,627.1 L792.2,628.0 L790.3,628.8 L788.4,629.5 L786.7,630.3 L785.0,631.0 L783.4,631.7 L781.9,632.4 L780.5,633.0 L779.2,633.6 L777.9,634.2 L776.6,634.8 L775.3,635.4 L774.0,636.0 L772.6,636.6 L771.2,637.3 L769.7,637.9 L768.3,638.6 L767.0,639.2 L765.8,639.7 L764.8,640.2 L764.0,640.5" fill="none" stroke="#151515" stroke-width="4.2" stroke-linecap="round" stroke-linejoin="round"/>
<path d="M764.0,640.5 L762.6,640.4 L760.7,640.3 L758.5,640.2 L756.0,640.1 L753.4,639.9 L750.8,639.7 L748.3,639.4 L746.0,639.0 L743.9,638.6 L741.9,638.3 L739.9,638.0 L737.9,637.5 L735.9,637.0 L734.0,636.2 L732.0,635.3 L730.0,634.0 L727.9,632.2 L725.6,630.0 L723.3,627.4 L721.0,624.7 L718.8,622.0 L716.9,619.5 L715.2,617.5 L714.0,616.0" fill="none" stroke="#151515" stroke-width="4.2" stroke-linecap="round" stroke-linejoin="round"/>
<path d="M746.0,446.0 L746.8,448.6 L747.8,452.0 L749.1,456.0 L750.5,460.5 L752.0,465.3 L753.4,470.3 L754.8,475.2 L756.0,480.0 L757.1,484.7 L758.2,489.6 L759.3,494.6 L760.3,499.8 L761.3,504.9 L762.3,510.0 L763.2,515.1 L764.0,520.0 L764.8,524.9 L765.5,529.8 L766.2,534.7 L766.9,539.5 L767.5,544.3 L768.1,549.0 L768.6,553.6 L769.0,558.0 L769.4,562.3 L769.7,566.5 L770.0,570.5 L770.2,574.5 L770.4,578.4 L770.5,582.3 L770.5,586.1 L770.5,590.0 L770.4,593.9 L770.2,597.9 L770.0,601.8 L769.7,605.8 L769.4,609.6 L769.0,613.2 L768.5,616.7 L768.0,620.0 L767.4,623.1 L766.6,626.2 L765.7,629.1 L764.8,631.9 L764.0,634.4 L763.2,636.6 L762.5,638.5 L762.0,640.0" fill="none" stroke="#151515" stroke-width="2.6" stroke-linecap="round" stroke-linejoin="round"/>
<path d="M759.0,456.0 L759.7,457.9 L760.7,460.4 L761.9,463.3 L763.2,466.6 L764.6,470.2 L765.9,473.8 L767.3,477.5 L768.5,481.0 L769.7,484.5" fill="none" stroke="#151515" stroke-width="3" stroke-linecap="round" stroke-linejoin="round"/>
<path d="M768.5,481.0 L769.7,484.5 L770.8,488.2 L772.0,491.9 L773.2,495.8 L774.3,499.6 L775.4,503.5 L776.5,507.3 L777.5,511.0 L778.5,514.7 L779.4,518.5 L780.3,522.3 L781.2,526.0 L782.0,529.7 L782.7,533.3 L783.4,536.7 L784.0,540.0 L784.5,543.1 L785.0,546.0 L785.3,548.9 L785.7,551.6 L785.9,554.2 L786.1,556.8 L786.3,559.4 L786.5,562.0 L786.6,564.6 L786.7,567.2 L786.8,569.7 L786.8,572.2 L786.8,574.7 L786.8,577.1 L786.7,579.6 L786.5,582.0 L786.3,584.4 L786.0,586.8 L785.7,589.2 L785.3,591.6 L784.9,594.0 L784.5,596.3 L784.0,598.7 L783.5,601.0 L783.0,603.3 L782.4,605.7" fill="none" stroke="#151515" stroke-width="6" stroke-linecap="round" stroke-linejoin="round"/>
<path d="M783.0,603.3 L782.4,605.7 L781.8,608.0 L781.2,610.4 L780.5,612.7 L779.8,614.9 L779.2,617.0 L778.5,619.0 L777.8,621.0 L777.0,622.9 L776.2,624.8 L775.4,626.6 L774.7,628.3 L774.0,629.8 L773.4,631.0 L773.0,632.0" fill="none" stroke="#151515" stroke-width="3" stroke-linecap="round" stroke-linejoin="round"/>
<path d="M598.7,355.4 L601.8,349.9 L605.2,345.0 L609.0,340.8 L613.1,337.3 L617.6,334.6 L622.3,332.5 L627.3,331.2 L632.6,330.7 L638.1,330.9 L643.7,331.9 L649.5,333.6" fill="none" stroke="#151515" stroke-width="4.2" stroke-linecap="round" stroke-linejoin="round"/>
<path d="M743.2,454.9 L746.8,465.4 L750.0,475.9 L752.8,486.4 L755.2,496.9 L757.2,507.2 L758.8,517.5 L759.9,527.5 L760.7,537.3 L760.9,546.8 L760.8,555.9 L760.2,564.6 L759.2,572.9 L757.7,580.7 L755.8,587.9 L753.5,594.6 L750.8,600.8 L747.7,606.2 L744.3,611.1 L740.4,615.2 L736.3,618.6" fill="none" stroke="#151515" stroke-width="4.2" stroke-linecap="round" stroke-linejoin="round"/>
<path d="M600.1,359.1 L603.5,357.0 L607.3,355.4 L611.4,354.5 L615.7,354.3 L620.3,354.6 L625.1,355.6 L630.1,357.1 L635.2,359.3 L640.5,362.1 L646.0,365.5 L651.5,369.4 L657.1,373.9 L662.8,379.0 L668.4,384.5 L674.1,390.5 L679.7,396.9 L685.2,403.8 L690.6,411.0 L696.0,418.6 L701.1,426.5 L706.1,434.7 L710.9,443.1 L715.5,451.7 L719.8,460.4 L723.9,469.2 L727.7,478.1 L731.2,487.1 L734.3,496.0 L737.2,504.8 L739.6,513.5 L741.8,522.1 L743.5,530.4 L744.9,538.5 L745.8,546.4 L746.4,553.9 L746.6,561.1 L746.4,567.9 L745.8,574.3 L744.8,580.2 L743.4,585.6 L741.7,590.6 L739.5,595.0 L737.1,598.8 L734.2,602.1 L731.0,604.8 L727.5,606.9 L723.7,608.4 L719.7,609.2" fill="none" stroke="#151515" stroke-width="4.2" stroke-linecap="round" stroke-linejoin="round"/>
<clipPath id="colclip"><path d="M510.0,435.5 L510.2,434.6 L510.4,433.6 L510.6,432.3 L510.9,430.8 L511.3,429.2 L511.6,427.5 L512.1,425.8 L512.5,424.0 L512.9,422.1 L513.3,420.1 L513.8,418.0 L514.2,415.7 L514.8,413.5 L515.5,411.3 L516.4,409.1 L517.5,407.1 L518.9,405.1 L520.5,403.2 L522.3,401.3 L524.2,399.4 L526.2,397.6 L528.2,395.8 L530.2,394.1 L532.1,392.5 L533.9,391.0 L535.8,389.7 L537.7,388.4 L539.6,387.2 L541.4,386.0 L543.3,384.9 L545.0,383.6 L546.7,382.3 L548.3,380.9 L549.8,379.4 L551.3,377.8 L552.7,376.2 L554.1,374.7 L555.5,373.2 L556.9,371.8 L558.3,370.6 L559.8,369.5 L561.2,368.5 L562.6,367.7 L564.1,366.9 L565.5,366.1 L567.0,365.4 L568.5,364.8 L570.0,364.2 L571.6,363.6 L573.4,363.1 L575.2,362.7 L577.0,362.3 L578.7,362.0 L580.2,361.7 L581.5,361.4 L582.5,361.2 L601.2,363.1 L601.3,362.8 L606.6,366.1 L611.9,369.6 L617.2,373.3 L622.4,377.1 L627.6,381.2 L632.7,385.4 L637.7,389.8 L642.6,394.3 L647.5,399.0 L652.2,403.8 L656.9,408.8 L661.4,413.9 L665.8,419.1 L670.1,424.4 L674.3,429.8 L678.4,435.4 L682.3,441.0 L686.0,446.7 L689.6,452.5 L693.1,458.3 L696.4,464.2 L699.5,470.2 L702.4,476.2 L705.2,482.3 L707.8,488.3 L710.3,494.4 L712.5,500.5 L714.6,506.6 L716.4,512.7 L718.1,518.8 L719.6,524.8 L720.9,530.8 L721.9,536.8 L722.8,542.7 L723.5,548.6 L724.0,554.4 L724.3,560.1 L724.3,565.8 L724.2,571.3 L723.9,576.8 L723.3,582.1 L722.6,587.4 L721.6,592.5 L720.5,597.5 L719.2,602.3 L717.6,607.0 L715.9,611.6 L714.0,616.0 L714.0,616.0 L713.3,616.7 L712.4,617.5 L711.4,618.6 L710.2,619.8 L708.9,621.0 L707.4,622.2 L705.9,623.5 L704.2,624.6 L702.4,625.7 L700.3,626.9 L698.1,628.1 L695.8,629.3 L693.4,630.5 L691.1,631.5 L688.8,632.5 L686.7,633.3 L684.8,633.9 L682.9,634.3 L681.1,634.6 L679.4,634.8 L677.7,635.0 L675.9,635.3 L674.0,635.7 L672.1,636.3 L670.1,637.2 L668.0,638.2 L665.9,639.4 L663.7,640.7 L661.5,641.9 L659.2,643.1 L656.9,644.2 L654.6,645.0 L652.2,645.7 L649.6,646.3 L646.9,646.9 L644.3,647.3 L641.6,647.7 L639.0,647.9 L636.5,648.0 L634.2,647.9 L632.0,647.6 L629.9,647.1 L627.8,646.4 L625.8,645.7 L623.9,644.8 L622.2,644.0 L620.5,643.2 L619.0,642.5 L617.6,641.9 L616.4,641.3 L615.3,640.8 L614.4,640.2 L613.5,639.7 L612.6,639.1 L611.8,638.6 L611.0,638.0 L610.2,637.4 L609.4,636.7 L608.7,636.0 L608.0,635.4 L607.4,634.7 L606.8,634.1 L606.4,633.7 L606.0,633.3 L606.0,633.3 L607.9,632.1 L609.6,630.5 L611.0,628.3 L612.2,625.8 L613.1,622.7 L613.8,619.3 L614.1,615.4 L614.2,611.2 L614.1,606.5 L613.6,601.5 L612.9,596.2 L611.9,590.6 L610.7,584.7 L609.1,578.6 L607.4,572.2 L605.4,565.7 L603.2,559.0 L600.7,552.2 L598.1,545.3 L595.2,538.4 L592.2,531.4 L589.0,524.4 L585.6,517.5 L582.1,510.7 L578.5,504.0 L574.8,497.5 L571.0,491.1 L567.2,484.9 L563.3,479.0 L559.4,473.3 L555.5,468.0 L551.5,462.9 L547.7,458.2 L543.8,453.9 L540.1,450.0 L536.4,446.5 L532.8,443.4 L529.4,440.8 L526.1,438.6 L522.9,436.9 L519.9,435.6 L517.1,434.9 L514.5,434.6 L512.2,434.8 L510.0,435.5Z"/></clipPath>
<g clip-path="url(#colclip)">
<path d="M510.0,435.5 L510.2,434.6 L510.4,433.6 L510.6,432.3 L510.9,430.8 L511.3,429.2 L511.6,427.5 L512.1,425.8 L512.5,424.0 L512.9,422.1 L513.3,420.1 L513.8,418.0 L514.2,415.7 L514.8,413.5 L515.5,411.3 L516.4,409.1 L517.5,407.1 L518.9,405.1 L520.5,403.2 L522.3,401.3 L524.2,399.4 L526.2,397.6 L528.2,395.8 L530.2,394.1 L532.1,392.5 L533.9,391.0 L535.8,389.7 L537.7,388.4 L539.6,387.2 L541.4,386.0 L543.3,384.9 L545.0,383.6 L546.7,382.3 L548.3,380.9 L549.8,379.4 L551.3,377.8 L552.7,376.2 L554.1,374.7 L555.5,373.2 L556.9,371.8 L558.3,370.6 L559.8,369.5 L561.2,368.5 L562.6,367.7 L564.1,366.9 L565.5,366.1 L567.0,365.4 L568.5,364.8 L570.0,364.2 L571.6,363.6 L573.4,363.1 L575.2,362.7 L577.0,362.3 L578.7,362.0 L580.2,361.7 L581.5,361.4 L582.5,361.2 L601.2,363.1 L601.3,362.8 L606.6,366.1 L611.9,369.6 L617.2,373.3 L622.4,377.1 L627.6,381.2 L632.7,385.4 L637.7,389.8 L642.6,394.3 L647.5,399.0 L652.2,403.8 L656.9,408.8 L661.4,413.9 L665.8,419.1 L670.1,424.4 L674.3,429.8 L678.4,435.4 L682.3,441.0 L686.0,446.7 L689.6,452.5 L693.1,458.3 L696.4,464.2 L699.5,470.2 L702.4,476.2 L705.2,482.3 L707.8,488.3 L710.3,494.4 L712.5,500.5 L714.6,506.6 L716.4,512.7 L718.1,518.8 L719.6,524.8 L720.9,530.8 L721.9,536.8 L722.8,542.7 L723.5,548.6 L724.0,554.4 L724.3,560.1 L724.3,565.8 L724.2,571.3 L723.9,576.8 L723.3,582.1 L722.6,587.4 L721.6,592.5 L720.5,597.5 L719.2,602.3 L717.6,607.0 L715.9,611.6 L714.0,616.0 L714.0,616.0 L713.3,616.7 L712.4,617.5 L711.4,618.6 L710.2,619.8 L708.9,621.0 L707.4,622.2 L705.9,623.5 L704.2,624.6 L702.4,625.7 L700.3,626.9 L698.1,628.1 L695.8,629.3 L693.4,630.5 L691.1,631.5 L688.8,632.5 L686.7,633.3 L684.8,633.9 L682.9,634.3 L681.1,634.6 L679.4,634.8 L677.7,635.0 L675.9,635.3 L674.0,635.7 L672.1,636.3 L670.1,637.2 L668.0,638.2 L665.9,639.4 L663.7,640.7 L661.5,641.9 L659.2,643.1 L656.9,644.2 L654.6,645.0 L652.2,645.7 L649.6,646.3 L646.9,646.9 L644.3,647.3 L641.6,647.7 L639.0,647.9 L636.5,648.0 L634.2,647.9 L632.0,647.6 L629.9,647.1 L627.8,646.4 L625.8,645.7 L623.9,644.8 L622.2,644.0 L620.5,643.2 L619.0,642.5 L617.6,641.9 L616.4,641.3 L615.3,640.8 L614.4,640.2 L613.5,639.7 L612.6,639.1 L611.8,638.6 L611.0,638.0 L610.2,637.4 L609.4,636.7 L608.7,636.0 L608.0,635.4 L607.4,634.7 L606.8,634.1 L606.4,633.7 L606.0,633.3 L606.0,633.3 L607.9,632.1 L609.6,630.5 L611.0,628.3 L612.2,625.8 L613.1,622.7 L613.8,619.3 L614.1,615.4 L614.2,611.2 L614.1,606.5 L613.6,601.5 L612.9,596.2 L611.9,590.6 L610.7,584.7 L609.1,578.6 L607.4,572.2 L605.4,565.7 L603.2,559.0 L600.7,552.2 L598.1,545.3 L595.2,538.4 L592.2,531.4 L589.0,524.4 L585.6,517.5 L582.1,510.7 L578.5,504.0 L574.8,497.5 L571.0,491.1 L567.2,484.9 L563.3,479.0 L559.4,473.3 L555.5,468.0 L551.5,462.9 L547.7,458.2 L543.8,453.9 L540.1,450.0 L536.4,446.5 L532.8,443.4 L529.4,440.8 L526.1,438.6 L522.9,436.9 L519.9,435.6 L517.1,434.9 L514.5,434.6 L512.2,434.8 L510.0,435.5Z" fill="url(#g8)" stroke="none"/>
<path d="M546.7,382.3 L556.0,372.0 L556.5,374.2 L560.2,373.8 L564.0,374.0 L568.1,374.6 L572.3,375.8 L576.7,377.5 L581.3,379.6 L586.0,382.3 L590.8,385.5 L595.7,389.1 L600.7,393.2 L605.8,397.7 L610.9,402.6 L616.0,408.0 L621.1,413.7 L626.2,419.8 L631.2,426.2 L636.2,432.9 L641.1,439.9 L645.9,447.2 L650.6,454.7 L655.2,462.4 L659.5,470.2 L663.7,478.2 L667.8,486.3 L671.6,494.5 L675.2,502.7 L678.5,510.9 L681.6,519.0 L684.4,527.1 L687.0,535.2 L689.3,543.1 L691.3,550.8 L693.0,558.4 L694.3,565.7 L695.4,572.8 L696.2,579.6 L696.6,586.2 L696.7,592.3 L696.5,598.2 L695.9,603.7 L695.1,608.7 L693.9,613.4 L692.4,617.6 L690.7,621.4 L688.6,624.7 L686.2,627.6 L683.5,629.9 L680.6,631.7 L671.1,633.5 L671.1,627.3 L671.0,621.0 L670.7,614.6 L670.3,608.2 L669.7,601.7 L669.0,595.2 L668.2,588.7 L667.2,582.1 L666.1,575.5 L664.9,568.9 L663.5,562.3 L662.0,555.8 L660.4,549.2 L658.6,542.6 L656.8,536.1 L654.8,529.6 L652.7,523.2 L650.4,516.8 L648.1,510.5 L645.6,504.2 L643.1,498.0 L640.4,492.0 L637.6,485.9 L634.8,480.0 L631.8,474.2 L628.7,468.6 L625.6,463.0 L622.4,457.6 L619.1,452.2 L615.7,447.1 L612.2,442.0 L608.7,437.2 L605.1,432.5 L601.5,427.9 L597.8,423.5 L594.0,419.3 L590.2,415.3 L586.4,411.4 L582.5,407.8 L578.6,404.3 L574.7,401.0 L570.7,398.0 L566.8,395.1 L562.8,392.4 L558.8,390.0 L554.8,387.7 L550.8,385.7 L546.8,383.9Z" fill="url(#g9)" stroke="none"/>
<path d="M510.0,435.5 L510.2,434.6 L510.4,433.6 L510.6,432.3 L510.9,430.8 L511.3,429.2 L511.6,427.5 L512.1,425.8 L512.5,424.0 L512.9,422.1 L513.3,420.1 L513.8,418.0 L514.2,415.7 L514.8,413.5 L515.5,411.3 L516.4,409.1 L517.5,407.1 L518.9,405.1 L520.5,403.2 L522.3,401.3 L524.2,399.4 L526.2,397.6 L528.2,395.8 L530.2,394.1 L532.1,392.5 L533.9,391.0 L535.8,389.7 L537.7,388.4 L539.6,387.2 L541.4,386.0 L543.3,384.9 L545.0,383.6 L546.7,382.3 L546.8,383.9 L550.8,385.7 L554.8,387.7 L558.8,390.0 L562.8,392.4 L566.8,395.1 L570.7,398.0 L574.7,401.0 L578.6,404.3 L582.5,407.8 L586.4,411.4 L590.2,415.3 L594.0,419.3 L597.8,423.5 L601.5,427.9 L605.1,432.5 L608.7,437.2 L612.2,442.0 L615.7,447.1 L619.1,452.2 L622.4,457.6 L625.6,463.0 L628.7,468.6 L631.8,474.2 L634.8,480.0 L637.6,485.9 L640.4,492.0 L643.1,498.0 L645.6,504.2 L648.1,510.5 L650.4,516.8 L652.7,523.2 L654.8,529.6 L656.8,536.1 L658.6,542.6 L660.4,549.2 L662.0,555.8 L663.5,562.3 L664.9,568.9 L666.1,575.5 L667.2,582.1 L668.2,588.7 L669.0,595.2 L669.7,601.7 L670.3,608.2 L670.7,614.6 L671.0,621.0 L671.1,627.3 L671.1,633.5 L672.1,636.3 L670.1,637.2 L668.0,638.2 L665.9,639.4 L663.7,640.7 L661.5,641.9 L659.2,643.1 L656.9,644.2 L654.6,645.0 L652.2,645.7 L649.6,646.3 L646.9,646.9 L644.3,647.3 L641.6,647.7 L639.0,647.9 L636.5,648.0 L634.2,647.9 L632.0,647.6 L629.9,647.1 L627.8,646.4 L625.8,645.7 L623.9,644.8 L622.2,644.0 L620.5,643.2 L619.0,642.5 L617.6,641.9 L616.4,641.3 L615.3,640.8 L614.4,640.2 L613.5,639.7 L612.6,639.1 L611.8,638.6 L611.0,638.0 L610.2,637.4 L609.4,636.7 L608.7,636.0 L608.0,635.4 L607.4,634.7 L606.8,634.1 L606.4,633.7 L606.0,633.3 L606.0,633.3 L607.9,632.1 L609.6,630.5 L611.0,628.3 L612.2,625.8 L613.1,622.7 L613.8,619.3 L614.1,615.4 L614.2,611.2 L614.1,606.5 L613.6,601.5 L612.9,596.2 L611.9,590.6 L610.7,584.7 L609.1,578.6 L607.4,572.2 L605.4,565.7 L603.2,559.0 L600.7,552.2 L598.1,545.3 L595.2,538.4 L592.2,531.4 L589.0,524.4 L585.6,517.5 L582.1,510.7 L578.5,504.0 L574.8,497.5 L571.0,491.1 L567.2,484.9 L563.3,479.0 L559.4,473.3 L555.5,468.0 L551.5,462.9 L547.7,458.2 L543.8,453.9 L540.1,450.0 L536.4,446.5 L532.8,443.4 L529.4,440.8 L526.1,438.6 L522.9,436.9 L519.9,435.6 L517.1,434.9 L514.5,434.6 L512.2,434.8 L510.0,435.5Z" fill="url(#g10)" stroke="none"/>
<path d="M543.0,413.4 L546.5,415.4 L550.3,417.9 L554.2,420.9 L558.2,424.5 L562.3,428.6 L566.4,433.1 L570.7,438.1 L575.0,443.5 L579.2,449.4 L583.5,455.6 L587.8,462.2 L592.0,469.1 L596.1,476.2 L600.1,483.6 L604.1,491.3 L607.9,499.1 L611.5,507.0 L615.0,515.0 L618.4,523.1 L621.5,531.2 L624.4,539.2 L627.0,547.2 L629.5,555.1 L631.6,562.9 L633.5,570.5 L635.2,577.8 L636.5,584.9 L637.6,591.7 L638.3,598.2 L638.8,604.3 L639.0,610.0 L638.8,615.3 L638.4,620.2 L637.7,624.6 L636.6,628.6 L635.3,632.0 L643.6,631.8 L645.0,628.3 L646.1,624.3 L646.8,619.8 L647.3,614.8 L647.5,609.3 L647.3,603.5 L646.9,597.3 L646.1,590.7 L645.1,583.7 L643.7,576.5 L642.1,569.0 L640.1,561.3 L637.9,553.4 L635.5,545.4 L632.8,537.2 L629.8,529.0 L626.7,520.8 L623.3,512.6 L619.7,504.4 L616.0,496.3 L612.1,488.4 L608.1,480.6 L603.9,473.1 L599.7,465.8 L595.4,458.8 L591.1,452.1 L586.7,445.8 L582.3,439.9 L577.9,434.4 L573.6,429.3 L569.3,424.7 L565.1,420.5 L561.0,416.9 L557.0,413.9 L553.1,411.3 L549.4,409.3Z" fill="#bcbcbc" stroke="none"/>
</g>
<path d="M510.0,435.5 L510.2,434.6 L510.4,433.6 L510.6,432.3 L510.9,430.8 L511.3,429.2 L511.6,427.5 L512.1,425.8 L512.5,424.0 L512.9,422.1 L513.3,420.1 L513.8,418.0 L514.2,415.7 L514.8,413.5 L515.5,411.3 L516.4,409.1 L517.5,407.1 L518.9,405.1 L520.5,403.2 L522.3,401.3 L524.2,399.4 L526.2,397.6 L528.2,395.8 L530.2,394.1 L532.1,392.5 L533.9,391.0 L535.8,389.7 L537.7,388.4 L539.6,387.2 L541.4,386.0 L543.3,384.9 L545.0,383.6 L546.7,382.3 L548.3,380.9 L549.8,379.4 L551.3,377.8 L552.7,376.2 L554.1,374.7 L555.5,373.2 L556.9,371.8 L558.3,370.6 L559.8,369.5 L561.2,368.5 L562.6,367.7 L564.1,366.9 L565.5,366.1 L567.0,365.4 L568.5,364.8 L570.0,364.2 L571.6,363.6 L573.4,363.1 L575.2,362.7 L577.0,362.3 L578.7,362.0 L580.2,361.7 L581.5,361.4 L582.5,361.2" fill="none" stroke="#151515" stroke-width="4.2" stroke-linecap="round" stroke-linejoin="round"/>
<path d="M606.0,633.3 L606.4,633.7 L606.8,634.1 L607.4,634.7 L608.0,635.4 L608.7,636.0 L609.4,636.7 L610.2,637.4 L611.0,638.0 L611.8,638.6 L612.6,639.1 L613.5,639.7 L614.4,640.2 L615.3,640.8 L616.4,641.3 L617.6,641.9 L619.0,642.5 L620.5,643.2 L622.2,644.0 L623.9,644.8 L625.8,645.7 L627.8,646.4 L629.9,647.1 L632.0,647.6 L634.2,647.9 L636.5,648.0 L639.0,647.9 L641.6,647.7 L644.3,647.3 L646.9,646.9 L649.6,646.3 L652.2,645.7 L654.6,645.0 L656.9,644.2 L659.2,643.1 L661.5,641.9 L663.7,640.7 L665.9,639.4 L668.0,638.2 L670.1,637.2 L672.1,636.3 L674.0,635.7 L675.9,635.3 L677.7,635.0 L679.4,634.8 L681.1,634.6 L682.9,634.3 L684.8,633.9 L686.7,633.3 L688.8,632.5 L691.1,631.5 L693.4,630.5 L695.8,629.3 L698.1,628.1 L700.3,626.9 L702.4,625.7 L704.2,624.6 L705.9,623.5 L707.4,622.2 L708.9,621.0 L710.2,619.8 L711.4,618.6 L712.4,617.5 L713.3,616.7 L714.0,616.0" fill="none" stroke="#151515" stroke-width="4.2" stroke-linecap="round" stroke-linejoin="round"/>
<path d="M546.8,383.9 L550.8,385.7 L554.8,387.7 L558.8,390.0 L562.8,392.4 L566.8,395.1 L570.7,398.0 L574.7,401.0 L578.6,404.3 L582.5,407.8 L586.4,411.4 L590.2,415.3 L594.0,419.3 L597.8,423.5 L601.5,427.9 L605.1,432.5 L608.7,437.2 L612.2,442.0 L615.7,447.1 L619.1,452.2 L622.4,457.6 L625.6,463.0 L628.7,468.6 L631.8,474.2 L634.8,480.0 L637.6,485.9 L640.4,492.0 L643.1,498.0 L645.6,504.2 L648.1,510.5 L650.4,516.8 L652.7,523.2 L654.8,529.6 L656.8,536.1 L658.6,542.6 L660.4,549.2 L662.0,555.8 L663.5,562.3 L664.9,568.9 L666.1,575.5 L667.2,582.1 L668.2,588.7 L669.0,595.2 L669.7,601.7 L670.3,608.2 L670.7,614.6 L671.0,621.0 L671.1,627.3 L671.1,633.5" fill="none" stroke="#151515" stroke-width="4.2" stroke-linecap="round" stroke-linejoin="round"/>
<path d="M556.5,374.2 L560.2,373.8 L564.0,374.0 L568.1,374.6 L572.3,375.8 L576.7,377.5 L581.3,379.6 L586.0,382.3 L590.8,385.5 L595.7,389.1 L600.7,393.2 L605.8,397.7 L610.9,402.6 L616.0,408.0 L621.1,413.7 L626.2,419.8 L631.2,426.2 L636.2,432.9 L641.1,439.9 L645.9,447.2 L650.6,454.7 L655.2,462.4 L659.5,470.2 L663.7,478.2 L667.8,486.3 L671.6,494.5 L675.2,502.7 L678.5,510.9 L681.6,519.0 L684.4,527.1 L687.0,535.2 L689.3,543.1 L691.3,550.8 L693.0,558.4 L694.3,565.7 L695.4,572.8 L696.2,579.6 L696.6,586.2 L696.7,592.3 L696.5,598.2 L695.9,603.7 L695.1,608.7 L693.9,613.4 L692.4,617.6 L690.7,621.4 L688.6,624.7 L686.2,627.6 L683.5,629.9 L680.6,631.7" fill="none" stroke="#151515" stroke-width="4.2" stroke-linecap="round" stroke-linejoin="round"/>
<path d="M601.3,362.8 L606.6,366.1 L611.9,369.6 L617.2,373.3 L622.4,377.1 L627.6,381.2 L632.7,385.4 L637.7,389.8 L642.6,394.3 L647.5,399.0 L652.2,403.8 L656.9,408.8 L661.4,413.9 L665.8,419.1 L670.1,424.4 L674.3,429.8 L678.4,435.4 L682.3,441.0 L686.0,446.7 L689.6,452.5 L693.1,458.3 L696.4,464.2 L699.5,470.2 L702.4,476.2 L705.2,482.3 L707.8,488.3 L710.3,494.4 L712.5,500.5 L714.6,506.6 L716.4,512.7 L718.1,518.8 L719.6,524.8 L720.9,530.8 L721.9,536.8 L722.8,542.7 L723.5,548.6 L724.0,554.4 L724.3,560.1 L724.3,565.8 L724.2,571.3 L723.9,576.8 L723.3,582.1 L722.6,587.4 L721.6,592.5 L720.5,597.5 L719.2,602.3 L717.6,607.0 L715.9,611.6 L714.0,616.0" fill="none" stroke="#151515" stroke-width="4.2" stroke-linecap="round" stroke-linejoin="round"/>
<path d="M239.0,620.0 L239.1,617.6 L239.3,614.3 L239.6,610.3 L239.8,605.9 L240.1,601.5 L240.4,597.1 L240.7,593.2 L241.0,590.0 L241.3,587.4 L241.6,585.1 L241.9,583.1 L242.3,581.3 L242.6,579.7 L243.1,578.1 L243.5,576.6 L244.0,575.0 L244.6,573.5 L245.2,572.0 L245.9,570.7 L246.7,569.4 L247.4,568.2 L248.1,566.9 L248.8,565.5 L249.5,564.0 L250.1,562.4 L250.7,560.6 L251.3,558.8 L251.8,556.9 L252.4,555.1 L252.9,553.3 L253.5,551.6 L254.0,550.0 L254.5,548.5 L255.1,547.1 L255.6,545.8 L256.1,544.6 L256.6,543.4 L257.1,542.2 L257.6,541.1 L258.0,540.0 L258.4,539.0 L258.7,538.1 L258.9,537.2 L259.2,536.4 L259.5,535.6 L259.9,534.8 L260.3,533.9 L261.0,533.0 L261.8,532.0 L262.8,531.0 L263.8,529.9 L265.0,528.8 L266.2,527.8 L267.5,526.7 L268.7,525.8 L270.0,525.0 L271.3,524.3 L272.6,523.7 L274.0,523.2 L275.4,522.7 L276.8,522.2 L278.2,521.8 L279.6,521.4 L281.0,521.0 L282.4,520.6 L284.0,520.2 L285.5,519.8 L287.1,519.4 L288.5,519.0 L289.8,518.7 L290.9,518.5 L291.8,518.3 L292.2,517.6 L292.7,516.7 L293.4,515.7 L294.3,514.8 L295.3,513.9 L296.6,512.9 L297.9,512.0 L299.5,511.1 L301.3,510.2 L303.4,509.3 L305.5,508.5 L307.6,507.7 L309.6,507.0 L311.8,506.4 L313.8,505.9 L315.5,505.5 L317.1,505.4 L318.5,505.5 L319.6,505.6 L320.4,505.7 L320.8,505.1 L321.4,504.2 L322.1,503.2 L323.0,502.2 L324.0,501.3 L325.2,500.4 L326.6,499.4 L328.2,498.5 L330.0,497.6 L332.0,496.7 L334.1,495.9 L336.2,495.1 L338.3,494.4 L340.4,493.8 L342.4,493.3 L344.2,493.0 L345.7,492.8 L347.1,492.9 L348.3,493.0 L349.1,493.1 L349.5,492.5 L350.0,491.6 L350.7,490.6 L351.6,489.6 L352.7,488.7 L353.9,487.8 L355.2,486.9 L356.8,486.0 L358.6,485.1 L360.7,484.2 L362.8,483.3 L364.9,482.6 L366.9,481.9 L369.1,481.3 L371.1,480.7 L372.8,480.4 L374.4,480.3 L375.8,480.3 L376.9,480.5 L377.7,480.6 L378.1,479.9 L378.7,479.0 L379.4,478.0 L380.3,477.1 L381.3,476.2 L382.5,475.2 L383.9,474.3 L385.5,473.4 L387.3,472.5 L389.3,471.6 L391.5,470.7 L393.5,470.0 L395.6,469.3 L397.7,468.7 L399.7,468.2 L401.5,467.8 L403.0,467.7 L404.4,467.8 L405.6,467.9 L406.4,468.0 L406.8,467.4 L407.3,466.5 L408.0,465.5 L408.9,464.5 L410.0,463.6 L411.2,462.7 L412.6,461.7 L414.1,460.8 L415.9,459.9 L418.0,459.0 L420.1,458.2 L422.2,457.4 L424.3,456.7 L426.4,456.1 L428.4,455.6 L430.1,455.3 L431.7,455.1 L433.1,455.2 L434.2,455.3 L435.0,455.4 L435.4,454.8 L435.9,453.9 L436.6,452.9 L437.4,452.0 L438.4,451.1 L439.6,450.2 L440.9,449.3 L442.4,448.5 L444.1,447.6 L446.1,446.7 L448.1,445.9 L450.1,445.2 L452.1,444.5 L454.1,444.0 L456.0,443.5 L457.7,443.2 L459.2,443.1 L460.6,443.2 L461.7,443.3 L462.5,443.4 L463.0,442.9 L463.7,442.2 L464.6,441.4 L465.7,440.6 L467.0,439.9 L468.5,439.3 L470.2,438.7 L472.1,438.1 L474.3,437.5 L476.7,437.0 L479.3,436.6 L481.8,436.2 L484.3,436.0 L486.8,435.7 L489.2,435.6 L491.3,435.6 L493.1,435.7 L494.7,436.0 L496.1,436.3 L497.0,436.5 L510.0,435.5 L510.0,435.5 L512.2,434.8 L514.5,434.6 L517.1,434.9 L519.9,435.6 L522.9,436.9 L526.1,438.6 L529.4,440.8 L532.8,443.4 L536.4,446.5 L540.1,450.0 L543.8,453.9 L547.7,458.2 L551.5,462.9 L555.5,468.0 L559.4,473.3 L563.3,479.0 L567.2,484.9 L571.0,491.1 L574.8,497.5 L578.5,504.0 L582.1,510.7 L585.6,517.5 L589.0,524.4 L592.2,531.4 L595.2,538.4 L598.1,545.3 L600.7,552.2 L603.2,559.0 L605.4,565.7 L607.4,572.2 L609.1,578.6 L610.7,584.7 L611.9,590.6 L612.9,596.2 L613.6,601.5 L614.1,606.5 L614.2,611.2 L614.1,615.4 L613.8,619.3 L613.1,622.7 L612.2,625.8 L611.0,628.3 L609.6,630.5 L607.9,632.1 L606.0,633.3 L606.0,633.3 L605.7,634.2 L605.4,635.6 L604.8,637.2 L603.7,639.0 L602.0,641.2 L599.8,643.6 L597.5,646.1 L595.3,648.3 L593.4,650.2 L591.5,651.9 L589.8,653.3 L588.3,654.4 L587.1,655.1 L586.1,655.5 L585.2,655.6 L584.3,655.6 L583.3,655.5 L582.2,655.2 L581.3,654.9 L580.7,654.7 L580.5,655.8 L580.2,657.3 L579.7,659.1 L578.6,661.0 L576.7,663.2 L574.2,665.6 L571.5,668.0 L569.1,670.1 L567.0,671.8 L564.9,673.3 L563.1,674.5 L561.4,675.3 L560.1,675.7 L559.1,675.7 L558.2,675.5 L557.2,675.1 L556.1,674.6 L554.9,673.9 L553.8,673.2 L553.1,672.7 L552.8,673.7 L552.5,675.1 L551.9,676.7 L550.7,678.4 L548.6,680.2 L545.9,682.2 L543.0,684.2 L540.4,685.8 L538.1,687.2 L535.9,688.3 L533.9,689.2 L532.2,689.8 L530.8,690.0 L529.7,689.9 L528.7,689.5 L527.7,689.1 L526.5,688.5 L525.2,687.7 L524.1,686.9 L523.4,686.3 L523.1,687.3 L522.9,688.7 L522.3,690.3 L521.1,691.9 L519.2,693.7 L516.6,695.6 L513.8,697.5 L511.3,699.1 L509.1,700.4 L507.0,701.5 L505.1,702.4 L503.4,703.0 L502.1,703.1 L501.0,703.0 L500.1,702.6 L499.1,702.2 L497.9,701.6 L496.7,700.7 L495.6,699.9 L494.9,699.3 L494.7,700.3 L494.4,701.7 L493.8,703.3 L492.7,705.0 L490.7,706.7 L488.1,708.7 L485.3,710.6 L482.9,712.2 L480.7,713.5 L478.6,714.6 L476.6,715.4 L475.0,716.0 L473.6,716.2 L472.6,716.0 L471.6,715.7 L470.6,715.2 L469.5,714.6 L468.2,713.7 L467.2,712.9 L466.4,712.4 L466.2,713.4 L465.9,714.7 L465.3,716.4 L464.2,718.0 L462.2,719.8 L459.6,721.7 L456.9,723.6 L454.4,725.2 L452.2,726.5 L450.1,727.6 L448.2,728.5 L446.5,729.0 L445.2,729.2 L444.1,729.1 L443.1,728.7 L442.1,728.3 L441.0,727.6 L439.8,726.8 L438.7,726.0 L437.9,725.4 L437.7,726.4 L437.4,727.8 L436.8,729.4 L435.7,731.1 L433.7,732.8 L431.2,734.8 L428.4,736.6 L425.9,738.2 L423.7,739.5 L421.6,740.7 L419.7,741.5 L418.0,742.1 L416.7,742.3 L415.6,742.1 L414.7,741.7 L413.7,741.3 L412.5,740.7 L411.3,739.8 L410.2,739.0 L409.5,738.4 L409.2,739.4 L409.0,740.8 L408.4,742.4 L407.2,744.1 L405.3,745.9 L402.7,747.8 L399.9,749.7 L397.4,751.3 L395.2,752.6 L393.1,753.7 L391.2,754.6 L389.5,755.1 L388.2,755.3 L387.1,755.1 L386.2,754.8 L385.2,754.3 L384.0,753.7 L382.8,752.9 L381.7,752.0 L381.0,751.5 L380.6,752.3 L380.0,753.4 L379.0,754.6 L377.3,755.7 L374.5,756.6 L370.8,757.4 L367.0,758.2 L363.5,758.8 L360.4,759.3 L357.6,759.6 L354.9,759.8 L352.7,759.7 L350.9,759.5 L349.5,759.0 L348.3,758.4 L347.1,757.7 L345.7,756.8 L344.2,755.7 L342.9,754.7 L342.0,754.0 L338.8,745.9 L336.1,746.9 L333.1,747.4 L330.0,747.5 L326.6,747.1 L323.2,746.2 L319.6,744.8 L315.9,743.0 L312.1,740.7 L308.2,738.0 L304.3,734.9 L300.3,731.4 L296.3,727.4 L292.3,723.2 L288.3,718.5 L284.4,713.6 L280.6,708.3 L276.8,702.8 L273.2,697.0 L269.6,691.0 L266.2,684.8 L263.0,678.5 L259.9,672.1Z" fill="url(#g11)" stroke="none"/>
<path d="M306.5,516.8 L309.4,517.1 L312.5,517.8 L315.6,518.9 L318.8,520.4 L322.1,522.3 L325.5,524.6 L329.0,527.3 L332.5,530.3 L336.0,533.7 L339.6,537.5 L343.1,541.6 L346.7,546.0 L350.2,550.7 L353.7,555.7 L357.2,561.0 L360.6,566.5 L364.0,572.3 L367.3,578.3 L370.5,584.5 L373.5,590.8 L376.5,597.3 L379.4,603.9 L382.1,610.6 L384.7,617.4 L387.2,624.2 L389.7,631.0 L392.1,637.7 L394.5,644.4 L396.9,650.9 L399.3,657.2 L401.7,663.4 L404.1,669.4 L406.4,675.2 L408.6,680.7 L410.8,686.0 L412.8,691.1 L414.7,695.9 L416.5,700.4 L418.0,704.7 L419.3,708.6 L420.3,712.3 L421.1,715.8 L421.5,718.9 L421.5,721.8 L421.2,724.4 L420.5,726.7 L419.4,728.8 L417.9,730.5 L421.6,728.9 L423.1,727.1 L424.2,725.1 L424.9,722.7 L425.2,720.1 L425.1,717.3 L424.7,714.1 L424.0,710.7 L422.9,707.0 L421.6,703.0 L420.1,698.7 L418.4,694.2 L416.5,689.4 L414.4,684.4 L412.3,679.1 L410.0,673.5 L407.7,667.7 L405.3,661.7 L403.0,655.6 L400.6,649.2 L398.2,642.7 L395.7,636.1 L393.3,629.3 L390.8,622.6 L388.3,615.7 L385.7,609.0 L383.0,602.2 L380.2,595.6 L377.2,589.1 L374.1,582.8 L370.9,576.6 L367.6,570.6 L364.3,564.9 L360.9,559.3 L357.4,554.1 L353.9,549.0 L350.3,544.3 L346.8,539.9 L343.2,535.8 L339.6,532.1 L336.1,528.7 L332.6,525.6 L329.2,522.9 L325.8,520.6 L322.5,518.7 L319.2,517.2 L316.1,516.1 L313.1,515.5 L310.2,515.2Z" fill="#b4b4b4" stroke="none"/>
<path d="M310.2,515.2 L313.1,515.5 L316.1,516.1 L319.2,517.2 L322.5,518.7 L325.8,520.6 L329.2,522.9 L332.6,525.6 L336.1,528.7 L339.6,532.1 L343.2,535.8 L346.8,539.9 L350.3,544.3 L353.9,549.0 L357.4,554.1 L360.9,559.3 L364.3,564.9 L367.6,570.6 L370.9,576.6 L374.1,582.8 L377.2,589.1 L380.2,595.6 L383.0,602.2 L385.7,609.0 L388.3,615.7 L390.8,622.6 L393.3,629.3 L395.7,636.1 L398.2,642.7 L400.6,649.2 L403.0,655.6 L405.3,661.7 L407.7,667.7 L410.0,673.5 L412.3,679.1 L414.4,684.4 L416.5,689.4 L418.4,694.2 L420.1,698.7 L421.6,703.0 L422.9,707.0 L424.0,710.7 L424.7,714.1 L425.1,717.3 L425.2,720.1 L424.9,722.7 L424.2,725.1 L423.1,727.1 L421.6,728.9 L426.6,726.6 L428.1,724.8 L429.2,722.8 L429.9,720.5 L430.2,717.9 L430.1,715.0 L429.7,711.8 L429.0,708.4 L427.9,704.7 L426.6,700.7 L425.1,696.4 L423.4,691.9 L421.5,687.1 L419.4,682.1 L417.3,676.8 L415.0,671.2 L412.7,665.4 L410.3,659.5 L408.0,653.3 L405.6,646.9 L403.2,640.4 L400.7,633.8 L398.3,627.1 L395.8,620.3 L393.3,613.5 L390.7,606.7 L388.0,600.0 L385.2,593.3 L382.2,586.9 L379.1,580.5 L375.9,574.3 L372.6,568.4 L369.3,562.6 L365.9,557.0 L362.4,551.8 L358.9,546.8 L355.3,542.0 L351.8,537.6 L348.2,533.5 L344.6,529.8 L341.1,526.4 L337.6,523.3 L334.2,520.6 L330.8,518.4 L327.5,516.5 L324.2,515.0 L321.1,513.9 L318.1,513.2 L315.2,512.9Z" fill="#a4a4a4" stroke="none"/>
<path d="M335.2,504.3 L338.1,504.6 L341.1,505.2 L344.2,506.3 L347.4,507.8 L350.8,509.7 L354.1,512.0 L357.6,514.7 L361.1,517.7 L364.6,521.1 L368.1,524.9 L371.7,529.0 L375.2,533.4 L378.8,538.1 L382.3,543.1 L385.7,548.3 L389.2,553.9 L392.5,559.6 L395.8,565.6 L399.0,571.8 L402.0,578.1 L405.0,584.6 L407.9,591.2 L410.6,597.9 L413.2,604.6 L415.7,611.4 L418.1,618.2 L420.6,624.9 L423.0,631.5 L425.4,638.0 L427.8,644.4 L430.2,650.5 L432.5,656.5 L434.8,662.3 L437.1,667.8 L439.2,673.1 L441.3,678.1 L443.2,682.9 L444.9,687.4 L446.4,691.7 L447.7,695.7 L448.8,699.4 L449.5,702.8 L449.9,705.9 L450.0,708.8 L449.7,711.4 L449.0,713.7 L447.9,715.7 L446.4,717.5 L450.0,715.8 L451.5,714.1 L452.6,712.0 L453.3,709.7 L453.6,707.1 L453.6,704.3 L453.2,701.1 L452.4,697.7 L451.4,694.0 L450.1,690.0 L448.6,685.8 L446.8,681.3 L444.9,676.5 L442.9,671.4 L440.7,666.1 L438.5,660.6 L436.1,654.8 L433.8,648.9 L431.4,642.7 L429.0,636.4 L426.6,629.9 L424.2,623.3 L421.8,616.5 L419.3,609.8 L416.8,603.0 L414.2,596.2 L411.5,589.5 L408.7,582.9 L405.7,576.4 L402.6,570.1 L399.4,563.9 L396.1,558.0 L392.8,552.2 L389.4,546.7 L385.9,541.4 L382.4,536.4 L378.9,531.7 L375.3,527.3 L371.8,523.2 L368.2,519.5 L364.7,516.1 L361.2,513.0 L357.8,510.4 L354.4,508.1 L351.1,506.2 L347.9,504.7 L344.7,503.6 L341.7,502.9 L338.8,502.6Z" fill="#b4b4b4" stroke="none"/>
<path d="M338.8,502.6 L341.7,502.9 L344.7,503.6 L347.9,504.7 L351.1,506.2 L354.4,508.1 L357.8,510.4 L361.2,513.0 L364.7,516.1 L368.2,519.5 L371.8,523.2 L375.3,527.3 L378.9,531.7 L382.4,536.4 L385.9,541.4 L389.4,546.7 L392.8,552.2 L396.1,558.0 L399.4,563.9 L402.6,570.1 L405.7,576.4 L408.7,582.9 L411.5,589.5 L414.2,596.2 L416.8,603.0 L419.3,609.8 L421.8,616.5 L424.2,623.3 L426.6,629.9 L429.0,636.4 L431.4,642.7 L433.8,648.9 L436.1,654.8 L438.5,660.6 L440.7,666.1 L442.9,671.4 L444.9,676.5 L446.8,681.3 L448.6,685.8 L450.1,690.0 L451.4,694.0 L452.4,697.7 L453.2,701.1 L453.6,704.3 L453.6,707.1 L453.3,709.7 L452.6,712.0 L451.5,714.1 L450.0,715.8 L455.0,713.5 L456.5,711.8 L457.6,709.8 L458.3,707.4 L458.6,704.8 L458.6,702.0 L458.2,698.8 L457.4,695.4 L456.4,691.7 L455.1,687.7 L453.6,683.5 L451.8,679.0 L449.9,674.2 L447.9,669.1 L445.7,663.9 L443.5,658.3 L441.1,652.6 L438.8,646.6 L436.4,640.4 L434.0,634.1 L431.6,627.6 L429.2,621.0 L426.8,614.3 L424.3,607.5 L421.8,600.7 L419.2,593.9 L416.5,587.2 L413.7,580.6 L410.7,574.1 L407.6,567.8 L404.4,561.6 L401.1,555.7 L397.8,549.9 L394.4,544.4 L390.9,539.1 L387.4,534.1 L383.9,529.4 L380.3,525.0 L376.8,520.9 L373.2,517.2 L369.7,513.8 L366.2,510.7 L362.8,508.1 L359.4,505.8 L356.1,503.9 L352.9,502.4 L349.7,501.3 L346.7,500.6 L343.8,500.3Z" fill="#a4a4a4" stroke="none"/>
<path d="M363.8,491.7 L366.7,492.0 L369.7,492.7 L372.8,493.8 L376.1,495.3 L379.4,497.2 L382.7,499.4 L386.2,502.1 L389.6,505.1 L393.2,508.5 L396.7,512.3 L400.2,516.3 L403.8,520.7 L407.3,525.4 L410.8,530.4 L414.3,535.7 L417.7,541.2 L421.0,547.0 L424.3,552.9 L427.5,559.1 L430.5,565.4 L433.5,571.8 L436.4,578.4 L439.1,585.1 L441.7,591.9 L444.1,598.7 L446.6,605.4 L449.0,612.1 L451.4,618.7 L453.8,625.2 L456.2,631.5 L458.6,637.7 L461.0,643.6 L463.3,649.4 L465.5,654.9 L467.7,660.2 L469.7,665.2 L471.6,670.0 L473.4,674.5 L474.9,678.7 L476.2,682.7 L477.2,686.4 L478.0,689.8 L478.4,692.9 L478.4,695.8 L478.1,698.4 L477.5,700.7 L476.4,702.7 L474.9,704.5 L478.5,702.8 L480.0,701.1 L481.1,699.0 L481.8,696.7 L482.1,694.1 L482.0,691.3 L481.6,688.1 L480.9,684.7 L479.8,681.0 L478.5,677.1 L477.0,672.8 L475.3,668.3 L473.4,663.5 L471.3,658.5 L469.1,653.2 L466.9,647.7 L464.6,642.0 L462.2,636.0 L459.9,629.9 L457.5,623.5 L455.1,617.0 L452.7,610.4 L450.2,603.7 L447.8,597.0 L445.3,590.2 L442.7,583.4 L440.0,576.8 L437.2,570.2 L434.2,563.7 L431.1,557.4 L427.9,551.2 L424.7,545.3 L421.3,539.5 L417.9,534.0 L414.5,528.8 L411.0,523.8 L407.4,519.1 L403.9,514.7 L400.3,510.6 L396.8,506.9 L393.3,503.5 L389.8,500.4 L386.4,497.8 L383.0,495.5 L379.7,493.6 L376.5,492.1 L373.3,491.0 L370.3,490.3 L367.4,490.0Z" fill="#b4b4b4" stroke="none"/>
<path d="M367.4,490.0 L370.3,490.3 L373.3,491.0 L376.5,492.1 L379.7,493.6 L383.0,495.5 L386.4,497.8 L389.8,500.4 L393.3,503.5 L396.8,506.9 L400.3,510.6 L403.9,514.7 L407.4,519.1 L411.0,523.8 L414.5,528.8 L417.9,534.0 L421.3,539.5 L424.7,545.3 L427.9,551.2 L431.1,557.4 L434.2,563.7 L437.2,570.2 L440.0,576.8 L442.7,583.4 L445.3,590.2 L447.8,597.0 L450.2,603.7 L452.7,610.4 L455.1,617.0 L457.5,623.5 L459.9,629.9 L462.2,636.0 L464.6,642.0 L466.9,647.7 L469.1,653.2 L471.3,658.5 L473.4,663.5 L475.3,668.3 L477.0,672.8 L478.5,677.1 L479.8,681.0 L480.9,684.7 L481.6,688.1 L482.0,691.3 L482.1,694.1 L481.8,696.7 L481.1,699.0 L480.0,701.1 L478.5,702.8 L483.5,700.5 L485.0,698.8 L486.1,696.7 L486.8,694.4 L487.1,691.8 L487.0,689.0 L486.6,685.8 L485.9,682.4 L484.8,678.7 L483.5,674.8 L482.0,670.5 L480.3,666.0 L478.4,661.3 L476.3,656.2 L474.1,650.9 L471.9,645.4 L469.6,639.7 L467.2,633.7 L464.9,627.6 L462.5,621.2 L460.1,614.8 L457.7,608.2 L455.2,601.5 L452.8,594.7 L450.3,587.9 L447.7,581.2 L445.0,574.5 L442.2,567.9 L439.2,561.4 L436.1,555.1 L432.9,549.0 L429.7,543.0 L426.3,537.3 L422.9,531.7 L419.5,526.5 L416.0,521.5 L412.4,516.8 L408.9,512.4 L405.3,508.3 L401.8,504.6 L398.3,501.2 L394.8,498.1 L391.4,495.5 L388.0,493.2 L384.7,491.3 L381.5,489.8 L378.3,488.7 L375.3,488.0 L372.4,487.8Z" fill="#a4a4a4" stroke="none"/>
<path d="M392.4,479.1 L395.3,479.4 L398.3,480.1 L401.5,481.2 L404.7,482.7 L408.0,484.6 L411.3,486.9 L414.8,489.5 L418.2,492.5 L421.7,495.9 L425.3,499.7 L428.8,503.7 L432.3,508.1 L435.9,512.8 L439.4,517.8 L442.8,523.0 L446.2,528.5 L449.5,534.3 L452.8,540.2 L456.0,546.4 L459.0,552.7 L462.0,559.1 L464.8,565.7 L467.6,572.4 L470.1,579.1 L472.6,585.9 L475.1,592.6 L477.5,599.3 L479.9,605.9 L482.3,612.3 L484.7,618.7 L487.1,624.8 L489.4,630.7 L491.7,636.5 L494.0,642.0 L496.1,647.3 L498.2,652.3 L500.1,657.0 L501.8,661.5 L503.3,665.8 L504.6,669.7 L505.7,673.4 L506.4,676.8 L506.8,679.9 L506.9,682.8 L506.6,685.4 L505.9,687.7 L504.8,689.7 L503.3,691.4 L507.0,689.8 L508.5,688.0 L509.6,686.0 L510.2,683.7 L510.5,681.1 L510.5,678.3 L510.0,675.1 L509.3,671.7 L508.3,668.0 L507.0,664.1 L505.4,659.9 L503.7,655.4 L501.8,650.6 L499.7,645.6 L497.6,640.3 L495.3,634.8 L493.0,629.1 L490.7,623.1 L488.3,617.0 L485.9,610.7 L483.5,604.2 L481.1,597.6 L478.7,590.9 L476.3,584.2 L473.8,577.4 L471.2,570.7 L468.5,564.0 L465.6,557.4 L462.7,551.0 L459.6,544.7 L456.4,538.6 L453.2,532.6 L449.8,526.9 L446.4,521.4 L443.0,516.1 L439.5,511.1 L436.0,506.4 L432.4,502.1 L428.9,498.0 L425.4,494.3 L421.9,490.9 L418.4,487.8 L415.0,485.2 L411.6,482.9 L408.3,481.0 L405.1,479.5 L402.0,478.4 L399.0,477.8 L396.1,477.5Z" fill="#b4b4b4" stroke="none"/>
<path d="M396.1,477.5 L399.0,477.8 L402.0,478.4 L405.1,479.5 L408.3,481.0 L411.6,482.9 L415.0,485.2 L418.4,487.8 L421.9,490.9 L425.4,494.3 L428.9,498.0 L432.4,502.1 L436.0,506.4 L439.5,511.1 L443.0,516.1 L446.4,521.4 L449.8,526.9 L453.2,532.6 L456.4,538.6 L459.6,544.7 L462.7,551.0 L465.6,557.4 L468.5,564.0 L471.2,570.7 L473.8,577.4 L476.3,584.2 L478.7,590.9 L481.1,597.6 L483.5,604.2 L485.9,610.7 L488.3,617.0 L490.7,623.1 L493.0,629.1 L495.3,634.8 L497.6,640.3 L499.7,645.6 L501.8,650.6 L503.7,655.4 L505.4,659.9 L507.0,664.1 L508.3,668.0 L509.3,671.7 L510.0,675.1 L510.5,678.3 L510.5,681.1 L510.2,683.7 L509.6,686.0 L508.5,688.0 L507.0,689.8 L512.0,687.5 L513.5,685.7 L514.6,683.7 L515.2,681.4 L515.5,678.8 L515.5,676.0 L515.0,672.8 L514.3,669.4 L513.3,665.8 L512.0,661.8 L510.4,657.6 L508.7,653.1 L506.8,648.3 L504.7,643.3 L502.6,638.0 L500.3,632.5 L498.0,626.8 L495.7,620.8 L493.3,614.7 L490.9,608.4 L488.5,601.9 L486.1,595.3 L483.7,588.7 L481.3,581.9 L478.8,575.1 L476.2,568.4 L473.5,561.7 L470.6,555.2 L467.7,548.7 L464.6,542.4 L461.4,536.3 L458.2,530.3 L454.8,524.6 L451.4,519.1 L448.0,513.8 L444.5,508.9 L441.0,504.2 L437.4,499.8 L433.9,495.7 L430.4,492.0 L426.9,488.6 L423.4,485.6 L420.0,482.9 L416.6,480.6 L413.3,478.7 L410.1,477.2 L407.0,476.2 L404.0,475.5 L401.1,475.2Z" fill="#a4a4a4" stroke="none"/>
<path d="M421.1,466.6 L424.0,466.9 L427.0,467.5 L430.1,468.6 L433.3,470.1 L436.6,472.0 L439.9,474.3 L443.3,476.9 L446.8,479.9 L450.3,483.3 L453.8,487.1 L457.4,491.1 L460.9,495.5 L464.4,500.2 L467.9,505.1 L471.3,510.4 L474.7,515.9 L478.1,521.6 L481.3,527.5 L484.5,533.6 L487.5,539.9 L490.5,546.4 L493.3,552.9 L496.0,559.6 L498.6,566.3 L501.1,573.1 L503.5,579.8 L505.9,586.5 L508.3,593.1 L510.7,599.5 L513.1,605.8 L515.5,611.9 L517.8,617.9 L520.2,623.6 L522.4,629.1 L524.6,634.3 L526.6,639.3 L528.5,644.1 L530.2,648.6 L531.8,652.8 L533.1,656.7 L534.1,660.4 L534.9,663.8 L535.3,666.9 L535.4,669.8 L535.1,672.4 L534.4,674.6 L533.3,676.7 L531.8,678.4 L535.4,676.7 L536.9,675.0 L538.0,673.0 L538.7,670.7 L539.0,668.1 L538.9,665.3 L538.5,662.1 L537.7,658.7 L536.7,655.1 L535.4,651.1 L533.9,646.9 L532.1,642.4 L530.2,637.7 L528.2,632.7 L526.0,627.4 L523.8,621.9 L521.5,616.2 L519.1,610.3 L516.8,604.1 L514.4,597.8 L512.0,591.4 L509.6,584.8 L507.2,578.1 L504.7,571.4 L502.2,564.7 L499.7,557.9 L497.0,551.3 L494.1,544.7 L491.2,538.3 L488.1,532.0 L485.0,525.9 L481.7,519.9 L478.4,514.2 L475.0,508.7 L471.5,503.5 L468.0,498.5 L464.5,493.8 L461.0,489.4 L457.5,485.4 L454.0,481.7 L450.5,478.3 L447.0,475.3 L443.6,472.6 L440.2,470.3 L436.9,468.5 L433.7,467.0 L430.6,465.9 L427.6,465.2 L424.7,464.9Z" fill="#b4b4b4" stroke="none"/>
<path d="M424.7,464.9 L427.6,465.2 L430.6,465.9 L433.7,467.0 L436.9,468.5 L440.2,470.3 L443.6,472.6 L447.0,475.3 L450.5,478.3 L454.0,481.7 L457.5,485.4 L461.0,489.4 L464.5,493.8 L468.0,498.5 L471.5,503.5 L475.0,508.7 L478.4,514.2 L481.7,519.9 L485.0,525.9 L488.1,532.0 L491.2,538.3 L494.1,544.7 L497.0,551.3 L499.7,557.9 L502.2,564.7 L504.7,571.4 L507.2,578.1 L509.6,584.8 L512.0,591.4 L514.4,597.8 L516.8,604.1 L519.1,610.3 L521.5,616.2 L523.8,621.9 L526.0,627.4 L528.2,632.7 L530.2,637.7 L532.1,642.4 L533.9,646.9 L535.4,651.1 L536.7,655.1 L537.7,658.7 L538.5,662.1 L538.9,665.3 L539.0,668.1 L538.7,670.7 L538.0,673.0 L536.9,675.0 L535.4,676.7 L540.4,674.5 L541.9,672.7 L543.0,670.7 L543.7,668.4 L544.0,665.8 L543.9,663.0 L543.5,659.9 L542.8,656.5 L541.7,652.8 L540.4,648.8 L538.9,644.6 L537.1,640.1 L535.2,635.4 L533.2,630.4 L531.0,625.1 L528.8,619.6 L526.5,613.9 L524.1,608.0 L521.8,601.9 L519.4,595.6 L517.0,589.1 L514.6,582.5 L512.2,575.9 L509.7,569.1 L507.2,562.4 L504.7,555.6 L502.0,549.0 L499.1,542.4 L496.2,536.0 L493.1,529.7 L490.0,523.6 L486.7,517.6 L483.4,511.9 L480.0,506.4 L476.5,501.2 L473.1,496.2 L469.5,491.5 L466.0,487.2 L462.5,483.1 L459.0,479.4 L455.5,476.0 L452.0,473.0 L448.6,470.3 L445.2,468.1 L441.9,466.2 L438.7,464.7 L435.6,463.6 L432.6,462.9 L429.7,462.6Z" fill="#a4a4a4" stroke="none"/>
<path d="M449.5,454.1 L452.3,454.4 L455.3,455.1 L458.5,456.2 L461.7,457.7 L465.0,459.5 L468.3,461.8 L471.7,464.4 L475.2,467.4 L478.7,470.8 L482.2,474.5 L485.8,478.6 L489.3,482.9 L492.8,487.6 L496.3,492.6 L499.8,497.8 L503.2,503.3 L506.5,509.0 L509.8,514.9 L512.9,521.0 L516.0,527.2 L519.0,533.7 L521.8,540.2 L524.5,546.8 L527.1,553.6 L529.6,560.3 L532.0,567.0 L534.5,573.6 L536.9,580.2 L539.3,586.6 L541.7,592.9 L544.1,599.0 L546.4,604.9 L548.7,610.6 L551.0,616.1 L553.2,621.3 L555.2,626.3 L557.1,631.1 L558.9,635.5 L560.4,639.7 L561.7,643.7 L562.8,647.3 L563.5,650.7 L564.0,653.8 L564.0,656.7 L563.7,659.2 L563.1,661.5 L562.0,663.5 L560.5,665.3 L564.3,663.5 L565.8,661.8 L566.9,659.8 L567.5,657.5 L567.8,654.9 L567.7,652.1 L567.3,649.0 L566.5,645.6 L565.5,641.9 L564.2,638.0 L562.6,633.8 L560.9,629.3 L559.0,624.6 L556.9,619.6 L554.7,614.4 L552.5,608.9 L550.1,603.2 L547.8,597.3 L545.4,591.2 L543.0,584.9 L540.6,578.5 L538.1,572.0 L535.7,565.3 L533.2,558.6 L530.7,551.9 L528.1,545.2 L525.4,538.5 L522.6,532.0 L519.6,525.6 L516.5,519.3 L513.3,513.2 L510.1,507.3 L506.7,501.6 L503.3,496.2 L499.9,490.9 L496.4,486.0 L492.8,481.3 L489.3,477.0 L485.8,472.9 L482.2,469.2 L478.7,465.8 L475.2,462.8 L471.8,460.2 L468.5,457.9 L465.2,456.1 L462.0,454.6 L458.8,453.5 L455.8,452.8 L452.9,452.5Z" fill="#b4b4b4" stroke="none"/>
<path d="M452.9,452.5 L455.8,452.8 L458.8,453.5 L462.0,454.6 L465.2,456.1 L468.5,457.9 L471.8,460.2 L475.2,462.8 L478.7,465.8 L482.2,469.2 L485.8,472.9 L489.3,477.0 L492.8,481.3 L496.4,486.0 L499.9,490.9 L503.3,496.2 L506.7,501.6 L510.1,507.3 L513.3,513.2 L516.5,519.3 L519.6,525.6 L522.6,532.0 L525.4,538.5 L528.1,545.2 L530.7,551.9 L533.2,558.6 L535.7,565.3 L538.1,572.0 L540.6,578.5 L543.0,584.9 L545.4,591.2 L547.8,597.3 L550.1,603.2 L552.5,608.9 L554.7,614.4 L556.9,619.6 L559.0,624.6 L560.9,629.3 L562.6,633.8 L564.2,638.0 L565.5,641.9 L566.5,645.6 L567.3,649.0 L567.7,652.1 L567.8,654.9 L567.5,657.5 L566.9,659.8 L565.8,661.8 L564.3,663.5 L569.5,661.1 L571.0,659.4 L572.1,657.4 L572.7,655.1 L573.0,652.5 L572.9,649.7 L572.5,646.6 L571.7,643.2 L570.7,639.6 L569.3,635.6 L567.8,631.5 L566.0,627.0 L564.1,622.3 L562.0,617.3 L559.8,612.1 L557.6,606.6 L555.2,600.9 L552.9,595.0 L550.5,588.9 L548.0,582.6 L545.6,576.2 L543.2,569.7 L540.7,563.0 L538.3,556.3 L535.7,549.6 L533.1,542.9 L530.4,536.3 L527.5,529.7 L524.6,523.3 L521.5,517.1 L518.3,511.0 L515.0,505.1 L511.6,499.4 L508.2,493.9 L504.8,488.7 L501.2,483.7 L497.7,479.1 L494.2,474.7 L490.6,470.7 L487.1,467.0 L483.5,463.6 L480.1,460.6 L476.6,458.0 L473.3,455.7 L470.0,453.9 L466.8,452.4 L463.6,451.3 L460.6,450.6 L457.7,450.3Z" fill="#a4a4a4" stroke="none"/>
<path d="M476.9,442.1 L479.8,442.4 L482.8,443.0 L486.0,444.1 L489.2,445.6 L492.5,447.4 L495.9,449.7 L499.3,452.3 L502.8,455.3 L506.4,458.6 L509.9,462.3 L513.5,466.3 L517.1,470.7 L520.7,475.3 L524.2,480.2 L527.7,485.4 L531.2,490.8 L534.6,496.5 L537.9,502.4 L541.1,508.4 L544.3,514.6 L547.3,521.0 L550.2,527.5 L553.0,534.1 L555.6,540.8 L558.2,547.5 L560.7,554.1 L563.2,560.7 L565.7,567.2 L568.1,573.6 L570.6,579.8 L573.0,585.9 L575.4,591.8 L577.8,597.4 L580.1,602.9 L582.4,608.1 L584.5,613.0 L586.4,617.7 L588.2,622.2 L589.8,626.3 L591.2,630.2 L592.3,633.9 L593.0,637.2 L593.5,640.3 L593.6,643.1 L593.3,645.7 L592.7,648.0 L591.6,650.0 L590.2,651.7 L594.0,650.0 L595.4,648.2 L596.5,646.2 L597.1,644.0 L597.4,641.4 L597.3,638.6 L596.8,635.5 L596.0,632.1 L594.9,628.5 L593.6,624.6 L592.0,620.4 L590.2,616.0 L588.2,611.3 L586.1,606.4 L583.9,601.2 L581.5,595.7 L579.2,590.1 L576.7,584.2 L574.3,578.2 L571.8,571.9 L569.3,565.5 L566.8,559.0 L564.3,552.4 L561.8,545.8 L559.3,539.1 L556.6,532.4 L553.8,525.8 L550.9,519.4 L547.9,513.0 L544.7,506.8 L541.5,500.7 L538.1,494.8 L534.7,489.2 L531.3,483.8 L527.8,478.6 L524.2,473.7 L520.6,469.0 L517.1,464.7 L513.5,460.7 L509.9,457.0 L506.3,453.7 L502.8,450.7 L499.4,448.1 L496.0,445.8 L492.7,444.0 L489.4,442.5 L486.3,441.4 L483.3,440.8 L480.4,440.5Z" fill="#b4b4b4" stroke="none"/>
<path d="M480.4,440.5 L483.3,440.8 L486.3,441.4 L489.4,442.5 L492.7,444.0 L496.0,445.8 L499.4,448.1 L502.8,450.7 L506.3,453.7 L509.9,457.0 L513.5,460.7 L517.1,464.7 L520.6,469.0 L524.2,473.7 L527.8,478.6 L531.3,483.8 L534.7,489.2 L538.1,494.8 L541.5,500.7 L544.7,506.8 L547.9,513.0 L550.9,519.4 L553.8,525.8 L556.6,532.4 L559.3,539.1 L561.8,545.8 L564.3,552.4 L566.8,559.0 L569.3,565.5 L571.8,571.9 L574.3,578.2 L576.7,584.2 L579.2,590.1 L581.5,595.7 L583.9,601.2 L586.1,606.4 L588.2,611.3 L590.2,616.0 L592.0,620.4 L593.6,624.6 L594.9,628.5 L596.0,632.1 L596.8,635.5 L597.3,638.6 L597.4,641.4 L597.1,644.0 L596.5,646.2 L595.4,648.2 L594.0,650.0 L599.2,647.6 L600.6,645.8 L601.7,643.8 L602.3,641.6 L602.6,639.0 L602.5,636.2 L602.0,633.1 L601.2,629.8 L600.1,626.1 L598.7,622.2 L597.1,618.1 L595.3,613.6 L593.4,609.0 L591.2,604.0 L589.0,598.8 L586.7,593.4 L584.3,587.7 L581.8,581.9 L579.4,575.8 L576.9,569.6 L574.4,563.2 L571.9,556.7 L569.4,550.1 L566.8,543.5 L564.3,536.8 L561.6,530.1 L558.8,523.6 L555.9,517.1 L552.8,510.7 L549.7,504.5 L546.4,498.5 L543.1,492.6 L539.7,486.9 L536.2,481.5 L532.7,476.3 L529.1,471.4 L525.5,466.8 L521.9,462.5 L518.3,458.5 L514.7,454.8 L511.2,451.5 L507.7,448.5 L504.2,445.9 L500.8,443.6 L497.5,441.8 L494.3,440.3 L491.1,439.2 L488.1,438.6 L485.2,438.3Z" fill="#a4a4a4" stroke="none"/>
<path d="M239.0,620.0 L239.1,617.6 L239.3,614.3 L239.6,610.3 L239.8,605.9 L240.1,601.5 L240.4,597.1 L240.7,593.2 L241.0,590.0 L241.3,587.4 L241.6,585.1 L241.9,583.1 L242.3,581.3 L242.6,579.7 L243.1,578.1 L243.5,576.6 L244.0,575.0 L244.6,573.5 L245.2,572.0 L245.9,570.7 L246.7,569.4 L247.4,568.2 L248.1,566.9 L248.8,565.5 L249.5,564.0 L250.1,562.4 L250.7,560.6 L251.3,558.8 L251.8,556.9 L252.4,555.1 L252.9,553.3 L253.5,551.6 L254.0,550.0 L254.5,548.5 L255.1,547.1 L255.6,545.8 L256.1,544.6 L256.6,543.4 L257.1,542.2 L257.6,541.1 L258.0,540.0 L258.4,539.0 L258.7,538.1 L258.9,537.2 L259.2,536.4 L259.5,535.6 L259.9,534.8 L260.3,533.9 L261.0,533.0 L261.8,532.0 L262.8,531.0 L263.8,529.9 L265.0,528.8 L266.2,527.8 L267.5,526.7 L268.7,525.8 L270.0,525.0 L271.3,524.3 L272.6,523.7 L274.0,523.2 L275.4,522.7 L276.8,522.2 L278.2,521.8 L279.6,521.4 L281.0,521.0 L282.4,520.6 L284.0,520.2 L285.5,519.8 L287.1,519.4 L288.5,519.0 L289.8,518.7 L290.9,518.5 L291.8,518.3 L292.2,517.6 L292.7,516.7 L293.4,515.7 L294.3,514.8 L295.3,513.9 L296.6,512.9 L297.9,512.0 L299.5,511.1 L301.3,510.2 L303.4,509.3 L305.5,508.5 L307.6,507.7 L309.6,507.0 L311.8,506.4 L313.8,505.9 L315.5,505.5 L317.1,505.4 L318.5,505.5 L319.6,505.6 L320.4,505.7 L320.8,505.1 L321.4,504.2 L322.1,503.2 L323.0,502.2 L324.0,501.3 L325.2,500.4 L326.6,499.4 L328.2,498.5 L330.0,497.6 L332.0,496.7 L334.1,495.9 L336.2,495.1 L338.3,494.4 L340.4,493.8 L342.4,493.3 L344.2,493.0 L345.7,492.8 L347.1,492.9 L348.3,493.0 L349.1,493.1 L349.5,492.5 L350.0,491.6 L350.7,490.6 L351.6,489.6 L352.7,488.7 L353.9,487.8 L355.2,486.9 L356.8,486.0 L358.6,485.1 L360.7,484.2 L362.8,483.3 L364.9,482.6 L366.9,481.9 L369.1,481.3 L371.1,480.7 L372.8,480.4 L374.4,480.3 L375.8,480.3 L376.9,480.5 L377.7,480.6 L378.1,479.9 L378.7,479.0 L379.4,478.0 L380.3,477.1 L381.3,476.2 L382.5,475.2 L383.9,474.3 L385.5,473.4 L387.3,472.5 L389.3,471.6 L391.5,470.7 L393.5,470.0 L395.6,469.3 L397.7,468.7 L399.7,468.2 L401.5,467.8 L403.0,467.7 L404.4,467.8 L405.6,467.9 L406.4,468.0 L406.8,467.4 L407.3,466.5 L408.0,465.5 L408.9,464.5 L410.0,463.6 L411.2,462.7 L412.6,461.7 L414.1,460.8 L415.9,459.9 L418.0,459.0 L420.1,458.2 L422.2,457.4 L424.3,456.7 L426.4,456.1 L428.4,455.6 L430.1,455.3 L431.7,455.1 L433.1,455.2 L434.2,455.3 L435.0,455.4 L435.4,454.8 L435.9,453.9 L436.6,452.9 L437.4,452.0 L438.4,451.1 L439.6,450.2 L440.9,449.3 L442.4,448.5 L444.1,447.6 L446.1,446.7 L448.1,445.9 L450.1,445.2 L452.1,444.5 L454.1,444.0 L456.0,443.5 L457.7,443.2 L459.2,443.1 L460.6,443.2 L461.7,443.3 L462.5,443.4 L463.0,442.9 L463.7,442.2 L464.6,441.4 L465.7,440.6 L467.0,439.9 L468.5,439.3 L470.2,438.7 L472.1,438.1 L474.3,437.5 L476.7,437.0 L479.3,436.6 L481.8,436.2 L484.3,436.0 L486.8,435.7 L489.2,435.6 L491.3,435.6 L493.1,435.7 L494.7,436.0 L496.1,436.3 L497.0,436.5 L510.0,435.5" fill="none" stroke="#151515" stroke-width="4.2" stroke-linecap="round" stroke-linejoin="round"/>
<path d="M342.0,754.0 L342.9,754.7 L344.2,755.7 L345.7,756.8 L347.1,757.7 L348.3,758.4 L349.5,759.0 L350.9,759.5 L352.7,759.7 L354.9,759.8 L357.6,759.6 L360.4,759.3 L363.5,758.8 L367.0,758.2 L370.8,757.4 L374.5,756.6 L377.3,755.7 L379.0,754.6 L380.0,753.4 L380.6,752.3 L381.0,751.5 L381.7,752.0 L382.8,752.9 L384.0,753.7 L385.2,754.3 L386.2,754.8 L387.1,755.1 L388.2,755.3 L389.5,755.1 L391.2,754.6 L393.1,753.7 L395.2,752.6 L397.4,751.3 L399.9,749.7 L402.7,747.8 L405.3,745.9 L407.2,744.1 L408.4,742.4 L409.0,740.8 L409.2,739.4 L409.5,738.4 L410.2,739.0 L411.3,739.8 L412.5,740.7 L413.7,741.3 L414.7,741.7 L415.6,742.1 L416.7,742.3 L418.0,742.1 L419.7,741.5 L421.6,740.7 L423.7,739.5 L425.9,738.2 L428.4,736.6 L431.2,734.8 L433.7,732.8 L435.7,731.1 L436.8,729.4 L437.4,727.8 L437.7,726.4 L437.9,725.4 L438.7,726.0 L439.8,726.8 L441.0,727.6 L442.1,728.3 L443.1,728.7 L444.1,729.1 L445.2,729.2 L446.5,729.0 L448.2,728.5 L450.1,727.6 L452.2,726.5 L454.4,725.2 L456.9,723.6 L459.6,721.7 L462.2,719.8 L464.2,718.0 L465.3,716.4 L465.9,714.7 L466.2,713.4 L466.4,712.4 L467.2,712.9 L468.2,713.7 L469.5,714.6 L470.6,715.2 L471.6,715.7 L472.6,716.0 L473.6,716.2 L475.0,716.0 L476.6,715.4 L478.6,714.6 L480.7,713.5 L482.9,712.2 L485.3,710.6 L488.1,708.7 L490.7,706.7 L492.7,705.0 L493.8,703.3 L494.4,701.7 L494.7,700.3 L494.9,699.3 L495.6,699.9 L496.7,700.7 L497.9,701.6 L499.1,702.2 L500.1,702.6 L501.0,703.0 L502.1,703.1 L503.4,703.0 L505.1,702.4 L507.0,701.5 L509.1,700.4 L511.3,699.1 L513.8,697.5 L516.6,695.6 L519.2,693.7 L521.1,691.9 L522.3,690.3 L522.9,688.7 L523.1,687.3 L523.4,686.3 L524.1,686.9 L525.2,687.7 L526.5,688.5 L527.7,689.1 L528.7,689.5 L529.7,689.9 L530.8,690.0 L532.2,689.8 L533.9,689.2 L535.9,688.3 L538.1,687.2 L540.4,685.8 L543.0,684.2 L545.9,682.2 L548.6,680.2 L550.7,678.4 L551.9,676.7 L552.5,675.1 L552.8,673.7 L553.1,672.7 L553.8,673.2 L554.9,673.9 L556.1,674.6 L557.2,675.1 L558.2,675.5 L559.1,675.7 L560.1,675.7 L561.4,675.3 L563.1,674.5 L564.9,673.3 L567.0,671.8 L569.1,670.1 L571.5,668.0 L574.2,665.6 L576.7,663.2 L578.6,661.0 L579.7,659.1 L580.2,657.3 L580.5,655.8 L580.7,654.7 L581.3,654.9 L582.2,655.2 L583.3,655.5 L584.3,655.6 L585.2,655.6 L586.1,655.5 L587.1,655.1 L588.3,654.4 L589.8,653.3 L591.5,651.9 L593.4,650.2 L595.3,648.3 L597.5,646.1 L599.8,643.6 L602.0,641.2 L603.7,639.0 L604.8,637.2 L605.4,635.6 L605.7,634.2 L606.0,633.3" fill="none" stroke="#151515" stroke-width="4.2" stroke-linecap="round" stroke-linejoin="round"/>
<path d="M261.6,546.9 L264.0,544.6 L266.6,542.7 L269.6,541.4 L272.8,540.5 L276.3,540.3 L280.1,540.5 L284.0,541.3 L288.2,542.6 L292.5,544.4 L297.0,546.7 L301.6,549.5 L306.4,552.8 L311.2,556.6 L316.1,560.8 L321.1,565.5 L326.0,570.5 L331.0,576.0 L335.9,581.8 L340.8,587.9 L345.5,594.3 L350.2,600.9 L354.8,607.8 L359.2,614.9 L363.4,622.2 L367.4,629.5 L371.3,637.0 L374.9,644.5 L378.2,652.0 L381.3,659.5 L384.0,666.9 L386.5,674.2 L388.7,681.4 L390.6,688.4 L392.1,695.2 L393.3,701.8 L394.2,708.1 L394.7,714.1 L394.8,719.7 L394.7,725.0 L394.1,729.9 L393.2,734.4 L392.0,738.4 L390.4,742.0 L388.5,745.1 L386.3,747.8 L383.8,749.9 L381.0,751.5" fill="none" stroke="#151515" stroke-width="4.2" stroke-linecap="round" stroke-linejoin="round"/>
<path d="M291.8,518.3 L294.6,517.2 L297.6,516.7 L300.8,516.8 L304.1,517.3 L307.6,518.3 L311.2,519.8 L314.9,521.8 L318.7,524.3 L322.6,527.2 L326.5,530.7 L330.5,534.5 L334.5,538.8 L338.5,543.6 L342.5,548.7 L346.4,554.1 L350.4,559.9 L354.2,566.1 L358.0,572.5 L361.7,579.2 L365.3,586.1 L368.8,593.3 L372.1,600.6 L375.3,608.1 L378.3,615.7 L381.2,623.3 L383.9,631.0 L386.7,638.6 L389.4,646.1 L392.1,653.4 L394.8,660.6 L397.4,667.5 L400.0,674.3 L402.6,680.7 L405.0,686.9 L407.4,692.7 L409.5,698.3 L411.5,703.5 L413.2,708.4 L414.7,713.0 L415.8,717.2 L416.6,721.0 L417.0,724.6 L416.9,727.8 L416.4,730.6 L415.4,733.1 L413.9,735.2 L411.9,737.0 L409.5,738.4" fill="none" stroke="#151515" stroke-width="4.2" stroke-linecap="round" stroke-linejoin="round"/>
<path d="M320.4,505.7 L323.2,504.7 L326.3,504.2 L329.4,504.2 L332.8,504.7 L336.2,505.7 L339.8,507.2 L343.5,509.2 L347.3,511.7 L351.2,514.7 L355.1,518.1 L359.1,521.9 L363.0,526.2 L367.0,530.9 L371.0,536.0 L375.0,541.5 L378.9,547.3 L382.8,553.4 L386.6,559.8 L390.2,566.5 L393.8,573.4 L397.3,580.6 L400.6,587.9 L403.8,595.3 L406.8,602.9 L409.6,610.6 L412.4,618.2 L415.1,625.8 L417.8,633.2 L420.5,640.6 L423.2,647.7 L425.9,654.7 L428.5,661.4 L431.0,667.8 L433.5,674.0 L435.8,679.8 L438.0,685.3 L440.0,690.5 L441.7,695.4 L443.1,700.0 L444.3,704.2 L445.1,708.0 L445.4,711.6 L445.4,714.7 L444.9,717.6 L443.9,720.1 L442.4,722.2 L440.4,724.0 L437.9,725.4" fill="none" stroke="#151515" stroke-width="4.2" stroke-linecap="round" stroke-linejoin="round"/>
<path d="M349.1,493.1 L351.9,492.1 L354.9,491.6 L358.1,491.6 L361.4,492.1 L364.8,493.1 L368.4,494.6 L372.1,496.6 L375.9,499.1 L379.8,502.1 L383.7,505.5 L387.6,509.3 L391.6,513.6 L395.6,518.3 L399.6,523.4 L403.5,528.8 L407.4,534.6 L411.3,540.8 L415.1,547.2 L418.8,553.8 L422.3,560.7 L425.8,567.9 L429.1,575.2 L432.3,582.6 L435.3,590.2 L438.1,597.8 L440.9,605.4 L443.6,613.0 L446.3,620.4 L449.0,627.7 L451.7,634.9 L454.3,641.8 L456.9,648.5 L459.5,654.9 L461.9,661.0 L464.2,666.9 L466.4,672.4 L468.4,677.6 L470.1,682.5 L471.6,687.0 L472.7,691.2 L473.5,695.1 L473.9,698.6 L473.8,701.7 L473.3,704.6 L472.3,707.0 L470.9,709.2 L468.9,710.9 L466.4,712.4" fill="none" stroke="#151515" stroke-width="4.2" stroke-linecap="round" stroke-linejoin="round"/>
<path d="M377.7,480.6 L380.5,479.6 L383.5,479.1 L386.7,479.1 L390.0,479.6 L393.5,480.6 L397.0,482.1 L400.7,484.1 L404.5,486.5 L408.3,489.5 L412.3,492.9 L416.2,496.7 L420.2,501.0 L424.2,505.7 L428.1,510.8 L432.1,516.2 L436.0,522.0 L439.8,528.1 L443.6,534.5 L447.3,541.1 L450.8,548.0 L454.3,555.1 L457.6,562.4 L460.7,569.8 L463.7,577.4 L466.6,585.0 L469.3,592.6 L472.1,600.1 L474.8,607.6 L477.4,614.9 L480.1,622.0 L482.8,628.9 L485.4,635.6 L487.9,642.0 L490.4,648.1 L492.7,653.9 L494.9,659.5 L496.8,664.6 L498.6,669.5 L500.0,674.0 L501.2,678.2 L502.0,682.1 L502.3,685.6 L502.3,688.7 L501.8,691.5 L500.8,694.0 L499.3,696.1 L497.4,697.9 L494.9,699.3" fill="none" stroke="#151515" stroke-width="4.2" stroke-linecap="round" stroke-linejoin="round"/>
<path d="M406.4,468.0 L409.2,467.0 L412.2,466.5 L415.3,466.5 L418.6,467.0 L422.1,468.0 L425.7,469.5 L429.3,471.5 L433.1,474.0 L436.9,476.9 L440.8,480.3 L444.8,484.1 L448.7,488.4 L452.7,493.1 L456.7,498.1 L460.6,503.6 L464.5,509.3 L468.4,515.4 L472.1,521.8 L475.8,528.5 L479.3,535.3 L482.8,542.4 L486.1,549.7 L489.2,557.1 L492.2,564.6 L495.1,572.2 L497.8,579.8 L500.5,587.3 L503.2,594.8 L505.9,602.1 L508.6,609.2 L511.2,616.1 L513.8,622.7 L516.3,629.1 L518.8,635.2 L521.1,641.0 L523.3,646.5 L525.3,651.7 L527.0,656.5 L528.5,661.1 L529.6,665.2 L530.4,669.1 L530.8,672.6 L530.7,675.7 L530.2,678.5 L529.3,681.0 L527.8,683.1 L525.8,684.9 L523.3,686.3" fill="none" stroke="#151515" stroke-width="4.2" stroke-linecap="round" stroke-linejoin="round"/>
<path d="M435.0,455.4 L437.8,454.4 L440.8,453.9 L444.0,453.9 L447.3,454.4 L450.7,455.4 L454.3,456.9 L457.9,458.9 L461.7,461.4 L465.5,464.3 L469.4,467.7 L473.4,471.5 L477.3,475.8 L481.3,480.5 L485.2,485.5 L489.2,490.9 L493.1,496.7 L496.9,502.8 L500.6,509.1 L504.3,515.8 L507.8,522.6 L511.3,529.7 L514.6,537.0 L517.7,544.4 L520.7,551.9 L523.5,559.4 L526.3,567.0 L529.0,574.5 L531.7,581.9 L534.4,589.2 L537.0,596.3 L539.7,603.2 L542.2,609.8 L544.8,616.2 L547.2,622.3 L549.6,628.1 L551.7,633.6 L553.7,638.7 L555.5,643.6 L556.9,648.1 L558.1,652.2 L558.8,656.1 L559.2,659.6 L559.2,662.7 L558.7,665.5 L557.7,668.0 L556.3,670.1 L554.3,671.9 L551.8,673.3" fill="none" stroke="#151515" stroke-width="4.2" stroke-linecap="round" stroke-linejoin="round"/>
<path d="M462.5,443.4 L465.3,442.4 L468.3,441.9 L471.4,441.9 L474.7,442.4 L478.2,443.4 L481.8,444.9 L485.4,446.8 L489.2,449.3 L493.1,452.2 L497.0,455.6 L501.0,459.4 L505.0,463.6 L509.0,468.2 L513.0,473.2 L517.0,478.6 L521.0,484.3 L524.9,490.3 L528.7,496.7 L532.4,503.3 L536.0,510.1 L539.5,517.1 L542.9,524.3 L546.1,531.6 L549.2,539.1 L552.1,546.6 L554.9,554.1 L557.7,561.5 L560.4,568.8 L563.2,575.9 L565.9,582.8 L568.5,589.4 L571.2,595.8 L573.7,601.8 L576.2,607.6 L578.5,613.0 L580.7,618.1 L582.7,622.9 L584.4,627.4 L585.9,631.5 L587.0,635.3 L587.8,638.8 L588.1,642.0 L588.1,644.8 L587.6,647.4 L586.6,649.7 L585.1,651.6 L583.2,653.3 L580.7,654.7" fill="none" stroke="#151515" stroke-width="4.2" stroke-linecap="round" stroke-linejoin="round"/>
<path d="M497.0,436.5 L498.6,436.1 L500.5,436.1 L502.6,436.7 L504.9,437.7 L507.4,439.2 L510.1,441.3 L513.0,443.7 L516.0,446.7 L519.2,450.1 L522.5,453.9 L525.9,458.1 L529.4,462.8 L533.0,467.8 L536.7,473.1 L540.4,478.8 L544.1,484.7 L547.9,490.9 L551.6,497.3 L555.3,504.0 L559.0,510.8 L562.6,517.7 L566.2,524.8 L569.6,531.9 L572.9,539.0 L576.1,546.1 L579.1,553.2 L582.0,560.2 L584.7,567.1 L587.2,573.9 L589.5,580.5 L591.7,586.9 L593.5,593.1 L595.2,598.9 L596.6,604.5 L597.8,609.8 L598.7,614.7 L599.3,619.3 L599.7,623.4 L599.9,627.2 L599.8,630.5 L599.4,633.3 L598.7,635.7 L597.8,637.6 L596.7,639.1 L595.3,640.0" fill="none" stroke="#151515" stroke-width="4.2" stroke-linecap="round" stroke-linejoin="round"/>
<path d="M510.0,435.5 L512.2,434.8 L514.5,434.6 L517.1,434.9 L519.9,435.6 L522.9,436.9 L526.1,438.6 L529.4,440.8 L532.8,443.4 L536.4,446.5 L540.1,450.0 L543.8,453.9 L547.7,458.2 L551.5,462.9 L555.5,468.0 L559.4,473.3 L563.3,479.0 L567.2,484.9 L571.0,491.1 L574.8,497.5 L578.5,504.0 L582.1,510.7 L585.6,517.5 L589.0,524.4 L592.2,531.4 L595.2,538.4 L598.1,545.3 L600.7,552.2 L603.2,559.0 L605.4,565.7 L607.4,572.2 L609.1,578.6 L610.7,584.7 L611.9,590.6 L612.9,596.2 L613.6,601.5 L614.1,606.5 L614.2,611.2 L614.1,615.4 L613.8,619.3 L613.1,622.7 L612.2,625.8 L611.0,628.3 L609.6,630.5 L607.9,632.1 L606.0,633.3" fill="none" stroke="#151515" stroke-width="4.2" stroke-linecap="round" stroke-linejoin="round"/>
<path d="M334.5,637.9 L337.3,644.3 L339.9,650.8 L342.3,657.2 L344.5,663.7 L346.5,670.1 L348.2,676.4 L349.7,682.6 L350.9,688.7 L351.8,694.6 L352.5,700.4 L352.9,705.9 L353.1,711.2 L353.0,716.1 L352.6,720.8 L351.9,725.2 L351.0,729.2 L349.8,732.9 L348.3,736.2 L346.6,739.1 L344.7,741.6 L342.5,743.6 L340.1,745.3 L337.5,746.5 L334.7,747.2 L331.7,747.5 L328.6,747.4 L325.3,746.7 L321.8,745.7 L318.3,744.2 L314.6,742.3 L310.9,739.9 L307.1,737.2 L303.2,734.0 L299.3,730.4 L295.4,726.5 L291.5,722.3 L287.6,717.7 L283.8,712.8 L280.1,707.6 L276.4,702.1 L272.8,696.5 L269.4,690.6 L266.1,684.6 L262.9,678.4 L259.9,672.1 L257.1,665.7 L254.5,659.2 L252.1,652.8 L249.9,646.3 L247.9,639.9 L246.2,633.6 L244.7,627.4 L243.5,621.3 L242.6,615.4 L241.9,609.6 L241.5,604.1 L241.3,598.8 L241.5,593.9 L241.8,589.2 L242.5,584.8 L243.5,580.8 L244.6,577.1 L246.1,573.8 L247.8,570.9 L249.7,568.4 L251.9,566.4 L254.3,564.7 L256.9,563.5 L259.7,562.8 L262.7,562.5 L265.8,562.6 L269.1,563.3 L272.6,564.3 L276.1,565.8 L279.8,567.7 L283.5,570.1 L287.4,572.8 L291.2,576.0 L295.1,579.6 L299.0,583.5 L302.9,587.7 L306.8,592.3 L310.6,597.2 L314.3,602.4 L318.0,607.9 L321.6,613.5 L325.0,619.4 L328.3,625.4 L331.5,631.6 L334.5,637.9Z" fill="url(#g12)" stroke="none"/>
<path d="M334.5,637.9 L337.3,644.3 L339.9,650.8 L342.3,657.2 L344.5,663.7 L346.5,670.1 L348.2,676.4 L349.7,682.6 L350.9,688.7 L351.8,694.6 L352.5,700.4 L352.9,705.9 L353.1,711.2 L353.0,716.1 L352.6,720.8 L351.9,725.2 L351.0,729.2 L349.8,732.9 L348.3,736.2 L346.6,739.1 L344.7,741.6 L342.5,743.6 L340.1,745.3 L337.5,746.5 L334.7,747.2 L331.7,747.5 L328.6,747.4 L325.3,746.7 L321.8,745.7 L318.3,744.2 L314.6,742.3 L310.9,739.9 L307.1,737.2 L303.2,734.0 L299.3,730.4 L295.4,726.5 L291.5,722.3 L287.6,717.7 L283.8,712.8 L280.1,707.6 L276.4,702.1 L272.8,696.5 L269.4,690.6 L266.1,684.6 L262.9,678.4 L259.9,672.1 L257.1,665.7 L254.5,659.2 L252.1,652.8 L249.9,646.3 L247.9,639.9 L246.2,633.6 L244.7,627.4 L243.5,621.3 L242.6,615.4 L241.9,609.6 L241.5,604.1 L241.3,598.8 L241.5,593.9 L241.8,589.2 L242.5,584.8 L243.5,580.8 L244.6,577.1 L246.1,573.8 L247.8,570.9 L249.7,568.4 L251.9,566.4 L254.3,564.7 L256.9,563.5 L259.7,562.8 L262.7,562.5 L265.8,562.6 L269.1,563.3 L272.6,564.3 L276.1,565.8 L279.8,567.7 L283.5,570.1 L287.4,572.8 L291.2,576.0 L295.1,579.6 L299.0,583.5 L302.9,587.7 L306.8,592.3 L310.6,597.2 L314.3,602.4 L318.0,607.9 L321.6,613.5 L325.0,619.4 L328.3,625.4 L331.5,631.6 L334.5,637.9Z" fill="none" stroke="#151515" stroke-width="4.2" stroke-linecap="round" stroke-linejoin="round"/>
<path d="M319.6,648.1 L321.4,652.3 L323.2,656.5 L324.8,660.8 L326.3,665.0 L327.6,669.2 L328.7,673.4 L329.7,677.5 L330.6,681.5 L331.3,685.4 L331.8,689.1 L332.1,692.7 L332.3,696.2 L332.2,699.5 L332.0,702.5 L331.7,705.4 L331.1,708.0 L330.4,710.4 L329.5,712.5 L328.5,714.4 L327.3,716.0 L325.9,717.3 L324.5,718.4 L322.8,719.1 L321.1,719.6 L319.2,719.7 L317.2,719.6 L315.1,719.2 L312.9,718.4 L310.6,717.4 L308.3,716.1 L305.9,714.5 L303.4,712.7 L300.9,710.5 L298.4,708.2 L295.9,705.6 L293.4,702.7 L290.9,699.7 L288.4,696.4 L286.0,693.0 L283.6,689.4 L281.3,685.6 L279.0,681.7 L276.8,677.7 L274.8,673.6 L272.8,669.5 L270.9,665.3 L269.2,661.0 L267.6,656.8 L266.1,652.5 L264.8,648.3 L263.6,644.1 L262.6,640.1 L261.8,636.1 L261.1,632.2 L260.6,628.4 L260.3,624.8 L260.1,621.3 L260.1,618.1 L260.3,615.0 L260.7,612.2 L261.2,609.5 L261.9,607.1 L262.8,605.0 L263.9,603.1 L265.1,601.5 L266.4,600.2 L267.9,599.2 L269.5,598.4 L271.3,598.0 L273.2,597.8 L275.2,597.9 L277.3,598.4 L279.5,599.1 L281.7,600.1 L284.1,601.4 L286.5,603.0 L288.9,604.9 L291.4,607.0 L293.9,609.4 L296.5,612.0 L299.0,614.8 L301.5,617.9 L303.9,621.1 L306.4,624.6 L308.8,628.2 L311.1,631.9 L313.4,635.8 L315.5,639.8 L317.6,643.9 L319.6,648.1Z" fill="#c6c6c6" stroke="none"/>
<clipPath id="boreclip"><path d="M319.6,648.1 L321.4,652.3 L323.2,656.5 L324.8,660.8 L326.3,665.0 L327.6,669.2 L328.7,673.4 L329.7,677.5 L330.6,681.5 L331.3,685.4 L331.8,689.1 L332.1,692.7 L332.3,696.2 L332.2,699.5 L332.0,702.5 L331.7,705.4 L331.1,708.0 L330.4,710.4 L329.5,712.5 L328.5,714.4 L327.3,716.0 L325.9,717.3 L324.5,718.4 L322.8,719.1 L321.1,719.6 L319.2,719.7 L317.2,719.6 L315.1,719.2 L312.9,718.4 L310.6,717.4 L308.3,716.1 L305.9,714.5 L303.4,712.7 L300.9,710.5 L298.4,708.2 L295.9,705.6 L293.4,702.7 L290.9,699.7 L288.4,696.4 L286.0,693.0 L283.6,689.4 L281.3,685.6 L279.0,681.7 L276.8,677.7 L274.8,673.6 L272.8,669.5 L270.9,665.3 L269.2,661.0 L267.6,656.8 L266.1,652.5 L264.8,648.3 L263.6,644.1 L262.6,640.1 L261.8,636.1 L261.1,632.2 L260.6,628.4 L260.3,624.8 L260.1,621.3 L260.1,618.1 L260.3,615.0 L260.7,612.2 L261.2,609.5 L261.9,607.1 L262.8,605.0 L263.9,603.1 L265.1,601.5 L266.4,600.2 L267.9,599.2 L269.5,598.4 L271.3,598.0 L273.2,597.8 L275.2,597.9 L277.3,598.4 L279.5,599.1 L281.7,600.1 L284.1,601.4 L286.5,603.0 L288.9,604.9 L291.4,607.0 L293.9,609.4 L296.5,612.0 L299.0,614.8 L301.5,617.9 L303.9,621.1 L306.4,624.6 L308.8,628.2 L311.1,631.9 L313.4,635.8 L315.5,639.8 L317.6,643.9 L319.6,648.1Z"/></clipPath>
<path d="M327.9,644.2 L329.6,648.1 L331.2,651.9 L332.6,655.8 L334.0,659.7 L335.2,663.5 L336.2,667.3 L337.1,671.0 L337.9,674.6 L338.5,678.2 L339.0,681.6 L339.3,684.9 L339.4,688.0 L339.4,691.0 L339.2,693.8 L338.9,696.4 L338.4,698.7 L337.8,700.9 L337.0,702.9 L336.0,704.6 L334.9,706.0 L333.7,707.2 L332.3,708.2 L330.9,708.8 L329.3,709.3 L327.5,709.4 L325.7,709.3 L323.8,708.9 L321.8,708.2 L319.8,707.3 L317.6,706.1 L315.4,704.7 L313.2,703.0 L311.0,701.0 L308.7,698.9 L306.4,696.5 L304.1,693.9 L301.8,691.2 L299.6,688.2 L297.4,685.1 L295.2,681.8 L293.1,678.4 L291.0,674.9 L289.0,671.2 L287.2,667.5 L285.4,663.7 L283.7,659.9 L282.1,656.0 L280.6,652.2 L279.3,648.3 L278.1,644.5 L277.0,640.7 L276.1,637.0 L275.4,633.3 L274.7,629.8 L274.3,626.4 L274.0,623.1 L273.8,620.0 L273.9,617.0 L274.0,614.2 L274.4,611.6 L274.9,609.2 L275.5,607.0 L276.3,605.1 L277.3,603.4 L278.3,601.9 L279.6,600.7 L280.9,599.8 L282.4,599.1 L284.0,598.7 L285.7,598.6 L287.6,598.7 L289.5,599.1 L291.5,599.8 L293.5,600.7 L295.6,601.9 L297.8,603.3 L300.1,605.0 L302.3,606.9 L304.6,609.1 L306.9,611.5 L309.2,614.0 L311.4,616.8 L313.7,619.8 L315.9,622.9 L318.1,626.2 L320.2,629.6 L322.3,633.1 L324.2,636.7 L326.1,640.5 L327.9,644.2Z" fill="#9b9b9b" stroke="#151515" stroke-width="4" clip-path="url(#boreclip)"/>
<path d="M319.6,648.1 L321.4,652.3 L323.2,656.5 L324.8,660.8 L326.3,665.0 L327.6,669.2 L328.7,673.4 L329.7,677.5 L330.6,681.5 L331.3,685.4 L331.8,689.1 L332.1,692.7 L332.3,696.2 L332.2,699.5 L332.0,702.5 L331.7,705.4 L331.1,708.0 L330.4,710.4 L329.5,712.5 L328.5,714.4 L327.3,716.0 L325.9,717.3 L324.5,718.4 L322.8,719.1 L321.1,719.6 L319.2,719.7 L317.2,719.6 L315.1,719.2 L312.9,718.4 L310.6,717.4 L308.3,716.1 L305.9,714.5 L303.4,712.7 L300.9,710.5 L298.4,708.2 L295.9,705.6 L293.4,702.7 L290.9,699.7 L288.4,696.4 L286.0,693.0 L283.6,689.4 L281.3,685.6 L279.0,681.7 L276.8,677.7 L274.8,673.6 L272.8,669.5 L270.9,665.3 L269.2,661.0 L267.6,656.8 L266.1,652.5 L264.8,648.3 L263.6,644.1 L262.6,640.1 L261.8,636.1 L261.1,632.2 L260.6,628.4 L260.3,624.8 L260.1,621.3 L260.1,618.1 L260.3,615.0 L260.7,612.2 L261.2,609.5 L261.9,607.1 L262.8,605.0 L263.9,603.1 L265.1,601.5 L266.4,600.2 L267.9,599.2 L269.5,598.4 L271.3,598.0 L273.2,597.8 L275.2,597.9 L277.3,598.4 L279.5,599.1 L281.7,600.1 L284.1,601.4 L286.5,603.0 L288.9,604.9 L291.4,607.0 L293.9,609.4 L296.5,612.0 L299.0,614.8 L301.5,617.9 L303.9,621.1 L306.4,624.6 L308.8,628.2 L311.1,631.9 L313.4,635.8 L315.5,639.8 L317.6,643.9 L319.6,648.1Z" fill="none" stroke="#151515" stroke-width="4.2" stroke-linecap="round" stroke-linejoin="round"/>
<g stroke="#111" stroke-linecap="butt" fill="none">
<line x1="73.7" y1="622.5" x2="268.0" y2="532.5" stroke-width="3.8"/>
<line x1="165.0" y1="656.2" x2="272.0" y2="603.0" stroke-width="3.8"/>
<line x1="215.0" y1="762.0" x2="325.0" y2="712.0" stroke-width="3.8"/>
<line x1="185.0" y1="857.0" x2="399.0" y2="755.5" stroke-width="3.8"/>
<line x1="120.0" y1="697.0" x2="100.9" y2="655.5" stroke-width="3.8"/>
<polygon points="85.0,621.0 110.6,653.3 92.9,661.4" fill="#111" stroke="none"/>
<line x1="150.0" y1="760.0" x2="174.7" y2="816.2" stroke-width="3.8"/>
<polygon points="190.0,851.0 165.0,818.3 182.8,810.5" fill="#111" stroke="none"/>
<line x1="148.0" y1="600.0" x2="154.2" y2="613.5" stroke-width="3.8"/>
<polygon points="170.0,648.0 144.5,615.7 162.2,607.6" fill="#111" stroke="none"/>
<line x1="250.0" y1="815.0" x2="242.0" y2="799.0" stroke-width="3.8"/>
<polygon points="225.0,765.0 251.6,796.4 234.2,805.1" fill="#111" stroke="none"/>
<line x1="245.0" y1="676.7" x2="342.5" y2="632.5" stroke-width="3.8"/>
<line x1="356.7" y1="625.8" x2="532.5" y2="545.3" stroke-width="3.8"/>
<line x1="549.0" y1="537.7" x2="561.5" y2="532.0" stroke-width="3.8"/>
<line x1="576.0" y1="525.4" x2="755.0" y2="443.3" stroke-width="3.8"/>
<line x1="769.2" y1="436.8" x2="782.5" y2="430.7" stroke-width="3.8"/>
<line x1="796.7" y1="424.2" x2="973.5" y2="343.3" stroke-width="3.8"/>
<line x1="499.0" y1="282.0" x2="529.9" y2="343.1" stroke-width="3.8"/>
<polygon points="547.0,377.0 520.3,345.7 537.7,336.9" fill="#111" stroke="none"/>
<line x1="697.0" y1="690.5" x2="688.7" y2="673.6" stroke-width="3.8"/>
<polygon points="672.0,639.5 698.4,671.1 680.9,679.7" fill="#111" stroke="none"/>
<line x1="715.5" y1="207.0" x2="715.5" y2="370.0" stroke-width="3.8"/>
<line x1="732.0" y1="331.0" x2="974.0" y2="232.5" stroke-width="3.8"/>
<line x1="935.0" y1="178.0" x2="943.9" y2="197.8" stroke-width="3.8"/>
<polygon points="959.5,232.5 934.2,200.0 952.0,192.0" fill="#111" stroke="none"/>
<line x1="833.3" y1="526.7" x2="1057.5" y2="408.7" stroke-width="3.8"/>
<line x1="1075.0" y1="466.0" x2="1066.1" y2="446.9" stroke-width="3.8"/>
<polygon points="1050.0,412.5 1075.8,444.6 1058.1,452.9" fill="#111" stroke="none"/>
<line x1="806.0" y1="253.5" x2="1017.5" y2="158.7" stroke-width="3.8"/>
<line x1="910.0" y1="535.0" x2="1143.7" y2="416.2" stroke-width="3.8"/>
<line x1="1058.7" y1="270.0" x2="1024.5" y2="198.0" stroke-width="3.8"/>
<polygon points="1008.2,163.7 1034.2,195.6 1016.6,204.0" fill="#111" stroke="none"/>
<line x1="1083.7" y1="321.2" x2="1114.6" y2="384.5" stroke-width="3.8"/>
<polygon points="1131.2,418.7 1104.9,387.0 1122.4,378.5" fill="#111" stroke="none"/>
<line x1="350.6" y1="697.0" x2="350.6" y2="1040.0" stroke-width="3.8"/>
<line x1="770.2" y1="600.0" x2="770.2" y2="781.0" stroke-width="3.8"/>
<line x1="918.3" y1="472.0" x2="918.3" y2="647.0" stroke-width="3.8"/>
<line x1="970.0" y1="415.0" x2="970.0" y2="778.5" stroke-width="3.8"/>
<line x1="1017.5" y1="592.5" x2="955.6" y2="618.0" stroke-width="3.8"/>
<polygon points="920.5,632.5 953.8,608.2 961.2,626.3" fill="#111" stroke="none"/>
<line x1="839.6" y1="740.0" x2="806.9" y2="753.8" stroke-width="3.8"/>
<polygon points="771.9,768.6 805.0,744.1 812.5,762.0" fill="#111" stroke="none"/>
<line x1="899.4" y1="715.2" x2="932.8" y2="701.7" stroke-width="3.8"/>
<polygon points="968.0,687.5 934.6,711.5 927.3,693.4" fill="#111" stroke="none"/>
<line x1="670.4" y1="738.5" x2="732.8" y2="713.4" stroke-width="3.8"/>
<polygon points="768.1,699.2 734.6,723.2 727.4,705.1" fill="#111" stroke="none"/>
<line x1="620.4" y1="909.0" x2="388.5" y2="1006.5" stroke-width="3.8"/>
<polygon points="353.5,1021.2 386.6,996.7 394.2,1014.7" fill="#111" stroke="none"/>
<line x1="728.8" y1="864.0" x2="932.9" y2="779.4" stroke-width="3.8"/>
<polygon points="968.0,764.8 934.8,789.1 927.3,771.1" fill="#111" stroke="none"/>
</g>
<g>
<text x="0" y="0" transform="translate(132.5,564.5) rotate(-23)" font-size="50" text-anchor="middle" dominant-baseline="central">CND</text>
<text x="0" y="0" transform="translate(120.0,741.0) rotate(-23)" font-size="50" text-anchor="middle" dominant-baseline="central">CRKS</text>
<text x="0" y="0" transform="translate(565.5,268.0) rotate(-23)" font-size="50" text-anchor="middle" dominant-baseline="central">BD4</text>
<text x="0" y="0" transform="translate(697.5,180.5) rotate(-23)" font-size="50" text-anchor="middle" dominant-baseline="central">DRVS</text>
<text x="0" y="0" transform="translate(922.5,162.5) rotate(-23)" font-size="50" text-anchor="middle" dominant-baseline="central">BD2</text>
<text x="0" y="0" transform="translate(1060.0,297.0) rotate(-23)" font-size="50" text-anchor="middle" dominant-baseline="central">BD1</text>
<text x="0" y="0" transform="translate(1065.0,575.0) rotate(-23)" font-size="50" text-anchor="middle" dominant-baseline="central">LB1</text>
<text x="0" y="0" transform="translate(869.0,730.0) rotate(-23)" font-size="50" text-anchor="middle" dominant-baseline="central">LF</text>
<text x="0" y="0" transform="translate(675.0,887.0) rotate(-23)" font-size="50" text-anchor="middle" dominant-baseline="central">OAL</text>
</g>
</svg>
</body></html>
